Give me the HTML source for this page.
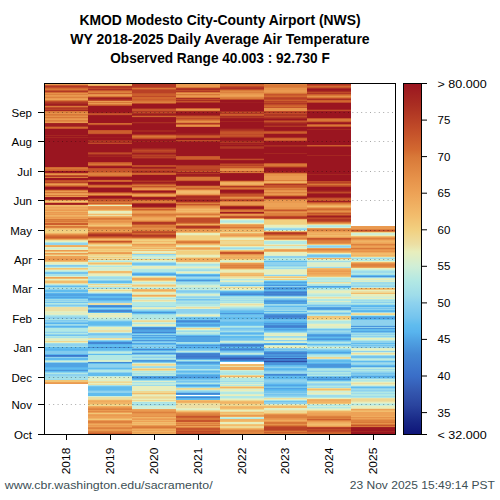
<!DOCTYPE html>
<html><head><meta charset="utf-8"><style>
html,body{margin:0;padding:0;background:#fff;width:500px;height:500px;overflow:hidden}
svg{display:block}
.t{font-family:"Liberation Sans",sans-serif;font-size:11.5px;fill:#000}
.title{font-family:"Liberation Sans",sans-serif;font-size:13.9px;font-weight:bold;fill:#000}
.foot{font-family:"Liberation Sans",sans-serif;font-size:11.2px;fill:#3d4f55}
</style></head><body>
<svg width="500" height="500" viewBox="0 0 500 500">
<defs><linearGradient id="cb" x1="0" y1="0" x2="0" y2="1"><stop offset="0.0000" stop-color="#9a1520"/><stop offset="0.0625" stop-color="#aa2e22"/><stop offset="0.1250" stop-color="#c04a28"/><stop offset="0.1875" stop-color="#d26830"/><stop offset="0.2083" stop-color="#d87838"/><stop offset="0.2708" stop-color="#e6924a"/><stop offset="0.3125" stop-color="#eda256"/><stop offset="0.3750" stop-color="#f2bc6c"/><stop offset="0.4167" stop-color="#f2d080"/><stop offset="0.4583" stop-color="#ecdfa4"/><stop offset="0.4792" stop-color="#e8eebc"/><stop offset="0.5208" stop-color="#d0eed6"/><stop offset="0.5625" stop-color="#b2e8e4"/><stop offset="0.6042" stop-color="#9edcea"/><stop offset="0.6250" stop-color="#8ed2ee"/><stop offset="0.6667" stop-color="#74c4ee"/><stop offset="0.6875" stop-color="#60bcee"/><stop offset="0.7083" stop-color="#58b4ee"/><stop offset="0.7292" stop-color="#50a4e4"/><stop offset="0.7708" stop-color="#4488d4"/><stop offset="0.8333" stop-color="#3a6ec8"/><stop offset="0.8750" stop-color="#3458b0"/><stop offset="0.9167" stop-color="#2a449e"/><stop offset="0.9583" stop-color="#1a2a88"/><stop offset="1.0000" stop-color="#0e1478"/></linearGradient></defs>
<rect x="44.00" y="84" width="44.00" height="1" fill="#ea9a50"/>
<rect x="44.00" y="85" width="44.00" height="1" fill="#c6542b"/>
<rect x="44.00" y="86" width="44.00" height="1" fill="#b13724"/>
<rect x="44.00" y="87" width="44.00" height="1" fill="#c04a28"/>
<rect x="44.00" y="88" width="44.00" height="1" fill="#d26830"/>
<rect x="44.00" y="89" width="44.00" height="1" fill="#d87838"/>
<rect x="44.00" y="90" width="44.00" height="1" fill="#c6542b"/>
<rect x="44.00" y="91" width="44.00" height="1" fill="#b13724"/>
<rect x="44.00" y="92" width="44.00" height="1" fill="#d26830"/>
<rect x="44.00" y="93" width="44.00" height="1" fill="#e6924a"/>
<rect x="44.00" y="94" width="44.00" height="1" fill="#dd813e"/>
<rect x="44.00" y="95" width="44.00" height="1" fill="#ea9a50"/>
<rect x="44.00" y="96" width="44.00" height="1" fill="#e6924a"/>
<rect x="44.00" y="97" width="44.00" height="1" fill="#dd813e"/>
<rect x="44.00" y="98" width="44.00" height="1" fill="#ea9a50"/>
<rect x="44.00" y="99" width="44.00" height="1" fill="#eda256"/>
<rect x="44.00" y="100" width="44.00" height="1" fill="#d87838"/>
<rect x="44.00" y="101" width="44.00" height="1" fill="#c04a28"/>
<rect x="44.00" y="102" width="44.00" height="1" fill="#b13724"/>
<rect x="44.00" y="103" width="44.00" height="1" fill="#aa2e22"/>
<rect x="44.00" y="104" width="44.00" height="1" fill="#9f1d21"/>
<rect x="44.00" y="105" width="44.00" height="1" fill="#aa2e22"/>
<rect x="44.00" y="106" width="44.00" height="1" fill="#d87838"/>
<rect x="44.00" y="107" width="44.00" height="1" fill="#c04a28"/>
<rect x="44.00" y="108" width="44.00" height="1" fill="#b13724"/>
<rect x="44.00" y="109" width="44.00" height="1" fill="#b94126"/>
<rect x="44.00" y="110" width="44.00" height="1" fill="#a52621"/>
<rect x="44.00" y="111" width="44.00" height="1" fill="#d87838"/>
<rect x="44.00" y="112" width="44.00" height="1" fill="#dd813e"/>
<rect x="44.00" y="113" width="44.00" height="1" fill="#e6924a"/>
<rect x="44.00" y="114" width="44.00" height="1" fill="#d87838"/>
<rect x="44.00" y="115" width="44.00" height="1" fill="#dd813e"/>
<rect x="44.00" y="116" width="44.00" height="1" fill="#e6924a"/>
<rect x="44.00" y="117" width="44.00" height="1" fill="#d87838"/>
<rect x="44.00" y="118" width="44.00" height="1" fill="#e6924a"/>
<rect x="44.00" y="119" width="44.00" height="1" fill="#ea9a50"/>
<rect x="44.00" y="120" width="44.00" height="1" fill="#dd813e"/>
<rect x="44.00" y="121" width="44.00" height="1" fill="#e18944"/>
<rect x="44.00" y="122" width="44.00" height="1" fill="#ea9a50"/>
<rect x="44.00" y="123" width="44.00" height="1" fill="#a52621"/>
<rect x="44.00" y="124" width="44.00" height="2" fill="#9f1d21"/>
<rect x="44.00" y="126" width="44.00" height="1" fill="#b13724"/>
<rect x="44.00" y="127" width="44.00" height="1" fill="#d26830"/>
<rect x="44.00" y="128" width="44.00" height="1" fill="#c6542b"/>
<rect x="44.00" y="129" width="44.00" height="6" fill="#9a1520"/>
<rect x="44.00" y="135" width="44.00" height="1" fill="#a52621"/>
<rect x="44.00" y="136" width="44.00" height="1" fill="#9a1520"/>
<rect x="44.00" y="137" width="44.00" height="1" fill="#a52621"/>
<rect x="44.00" y="138" width="44.00" height="29" fill="#9a1520"/>
<rect x="44.00" y="167" width="44.00" height="1" fill="#d26830"/>
<rect x="44.00" y="168" width="44.00" height="1" fill="#d87838"/>
<rect x="44.00" y="169" width="44.00" height="1" fill="#d26830"/>
<rect x="44.00" y="170" width="44.00" height="1" fill="#cc5e2d"/>
<rect x="44.00" y="171" width="44.00" height="1" fill="#9a1520"/>
<rect x="44.00" y="172" width="44.00" height="1" fill="#9f1d21"/>
<rect x="44.00" y="173" width="44.00" height="1" fill="#d87838"/>
<rect x="44.00" y="174" width="44.00" height="1" fill="#e6924a"/>
<rect x="44.00" y="175" width="44.00" height="1" fill="#c04a28"/>
<rect x="44.00" y="176" width="44.00" height="1" fill="#b13724"/>
<rect x="44.00" y="177" width="44.00" height="1" fill="#d87838"/>
<rect x="44.00" y="178" width="44.00" height="2" fill="#9a1520"/>
<rect x="44.00" y="180" width="44.00" height="1" fill="#c04a28"/>
<rect x="44.00" y="181" width="44.00" height="1" fill="#c6542b"/>
<rect x="44.00" y="182" width="44.00" height="1" fill="#b94126"/>
<rect x="44.00" y="183" width="44.00" height="1" fill="#dd813e"/>
<rect x="44.00" y="184" width="44.00" height="1" fill="#ea9a50"/>
<rect x="44.00" y="185" width="44.00" height="1" fill="#d87838"/>
<rect x="44.00" y="186" width="44.00" height="1" fill="#c04a28"/>
<rect x="44.00" y="187" width="44.00" height="2" fill="#9a1520"/>
<rect x="44.00" y="189" width="44.00" height="1" fill="#aa2e22"/>
<rect x="44.00" y="190" width="44.00" height="1" fill="#d87838"/>
<rect x="44.00" y="191" width="44.00" height="1" fill="#ea9a50"/>
<rect x="44.00" y="192" width="44.00" height="1" fill="#d87838"/>
<rect x="44.00" y="193" width="44.00" height="1" fill="#ea9a50"/>
<rect x="44.00" y="194" width="44.00" height="1" fill="#eda256"/>
<rect x="44.00" y="195" width="44.00" height="1" fill="#d87838"/>
<rect x="44.00" y="196" width="44.00" height="1" fill="#ea9a50"/>
<rect x="44.00" y="197" width="44.00" height="1" fill="#9f1d21"/>
<rect x="44.00" y="198" width="44.00" height="1" fill="#9a1520"/>
<rect x="44.00" y="199" width="44.00" height="1" fill="#aa2e22"/>
<rect x="44.00" y="200" width="44.00" height="1" fill="#ea9a50"/>
<rect x="44.00" y="201" width="44.00" height="1" fill="#f2c676"/>
<rect x="44.00" y="202" width="44.00" height="1" fill="#ea9a50"/>
<rect x="44.00" y="203" width="44.00" height="1" fill="#9f1d21"/>
<rect x="44.00" y="204" width="44.00" height="1" fill="#aa2e22"/>
<rect x="44.00" y="205" width="44.00" height="1" fill="#f2bc6c"/>
<rect x="44.00" y="206" width="44.00" height="1" fill="#f0b365"/>
<rect x="44.00" y="207" width="44.00" height="1" fill="#eda256"/>
<rect x="44.00" y="208" width="44.00" height="1" fill="#efab5d"/>
<rect x="44.00" y="209" width="44.00" height="1" fill="#eda256"/>
<rect x="44.00" y="210" width="44.00" height="1" fill="#ea9a50"/>
<rect x="44.00" y="211" width="44.00" height="1" fill="#f0b365"/>
<rect x="44.00" y="212" width="44.00" height="1" fill="#ea9a50"/>
<rect x="44.00" y="213" width="44.00" height="1" fill="#eda256"/>
<rect x="44.00" y="214" width="44.00" height="1" fill="#ea9a50"/>
<rect x="44.00" y="215" width="44.00" height="1" fill="#f0b365"/>
<rect x="44.00" y="216" width="44.00" height="1" fill="#efab5d"/>
<rect x="44.00" y="217" width="44.00" height="1" fill="#ea9a50"/>
<rect x="44.00" y="218" width="44.00" height="1" fill="#eda256"/>
<rect x="44.00" y="219" width="44.00" height="1" fill="#d87838"/>
<rect x="44.00" y="220" width="44.00" height="1" fill="#dd813e"/>
<rect x="44.00" y="221" width="44.00" height="1" fill="#d87838"/>
<rect x="44.00" y="222" width="44.00" height="1" fill="#e6924a"/>
<rect x="44.00" y="223" width="44.00" height="2" fill="#cc5e2d"/>
<rect x="44.00" y="225" width="44.00" height="1" fill="#efab5d"/>
<rect x="44.00" y="226" width="44.00" height="1" fill="#d87838"/>
<rect x="44.00" y="227" width="44.00" height="1" fill="#dd813e"/>
<rect x="44.00" y="228" width="44.00" height="1" fill="#f0b365"/>
<rect x="44.00" y="229" width="44.00" height="1" fill="#f2c676"/>
<rect x="44.00" y="230" width="44.00" height="3" fill="#f2d080"/>
<rect x="44.00" y="233" width="44.00" height="1" fill="#f0b365"/>
<rect x="44.00" y="234" width="44.00" height="1" fill="#e6924a"/>
<rect x="44.00" y="235" width="44.00" height="1" fill="#d87838"/>
<rect x="44.00" y="236" width="44.00" height="1" fill="#d26830"/>
<rect x="44.00" y="237" width="44.00" height="1" fill="#cc5e2d"/>
<rect x="44.00" y="238" width="44.00" height="1" fill="#d87838"/>
<rect x="44.00" y="239" width="44.00" height="1" fill="#efab5d"/>
<rect x="44.00" y="240" width="44.00" height="1" fill="#ecdfa4"/>
<rect x="44.00" y="241" width="44.00" height="1" fill="#e8eebc"/>
<rect x="44.00" y="242" width="44.00" height="1" fill="#b2e8e4"/>
<rect x="44.00" y="243" width="44.00" height="2" fill="#8ed2ee"/>
<rect x="44.00" y="245" width="44.00" height="1" fill="#f0b365"/>
<rect x="44.00" y="246" width="44.00" height="1" fill="#efab5d"/>
<rect x="44.00" y="247" width="44.00" height="1" fill="#e8eebc"/>
<rect x="44.00" y="248" width="44.00" height="1" fill="#d0eed6"/>
<rect x="44.00" y="249" width="44.00" height="1" fill="#e8eebc"/>
<rect x="44.00" y="250" width="44.00" height="1" fill="#ea9a50"/>
<rect x="44.00" y="251" width="44.00" height="1" fill="#f2bc6c"/>
<rect x="44.00" y="252" width="44.00" height="1" fill="#ecdfa4"/>
<rect x="44.00" y="253" width="44.00" height="1" fill="#ea9a50"/>
<rect x="44.00" y="254" width="44.00" height="1" fill="#f0b365"/>
<rect x="44.00" y="255" width="44.00" height="1" fill="#efd892"/>
<rect x="44.00" y="256" width="44.00" height="2" fill="#eda256"/>
<rect x="44.00" y="258" width="44.00" height="2" fill="#ea9a50"/>
<rect x="44.00" y="260" width="44.00" height="1" fill="#eda256"/>
<rect x="44.00" y="261" width="44.00" height="1" fill="#f2bc6c"/>
<rect x="44.00" y="262" width="44.00" height="2" fill="#e8eebc"/>
<rect x="44.00" y="264" width="44.00" height="1" fill="#d0eed6"/>
<rect x="44.00" y="265" width="44.00" height="1" fill="#81cbee"/>
<rect x="44.00" y="266" width="44.00" height="1" fill="#8ed2ee"/>
<rect x="44.00" y="267" width="44.00" height="1" fill="#c1ebdd"/>
<rect x="44.00" y="268" width="44.00" height="1" fill="#f2c676"/>
<rect x="44.00" y="269" width="44.00" height="1" fill="#efd892"/>
<rect x="44.00" y="270" width="44.00" height="1" fill="#d0eed6"/>
<rect x="44.00" y="271" width="44.00" height="1" fill="#b2e8e4"/>
<rect x="44.00" y="272" width="44.00" height="2" fill="#74c4ee"/>
<rect x="44.00" y="274" width="44.00" height="2" fill="#a8e2e7"/>
<rect x="44.00" y="276" width="44.00" height="1" fill="#dceec9"/>
<rect x="44.00" y="277" width="44.00" height="1" fill="#eda256"/>
<rect x="44.00" y="278" width="44.00" height="1" fill="#f2bc6c"/>
<rect x="44.00" y="279" width="44.00" height="1" fill="#e8eebc"/>
<rect x="44.00" y="280" width="44.00" height="1" fill="#efd892"/>
<rect x="44.00" y="281" width="44.00" height="2" fill="#f2bc6c"/>
<rect x="44.00" y="283" width="44.00" height="1" fill="#ecdfa4"/>
<rect x="44.00" y="284" width="44.00" height="1" fill="#c1ebdd"/>
<rect x="44.00" y="285" width="44.00" height="1" fill="#8ed2ee"/>
<rect x="44.00" y="286" width="44.00" height="1" fill="#60bcee"/>
<rect x="44.00" y="287" width="44.00" height="1" fill="#9edcea"/>
<rect x="44.00" y="288" width="44.00" height="1" fill="#a8e2e7"/>
<rect x="44.00" y="289" width="44.00" height="1" fill="#8ed2ee"/>
<rect x="44.00" y="290" width="44.00" height="2" fill="#60bcee"/>
<rect x="44.00" y="292" width="44.00" height="1" fill="#8ed2ee"/>
<rect x="44.00" y="293" width="44.00" height="1" fill="#58b4ee"/>
<rect x="44.00" y="294" width="44.00" height="2" fill="#50a4e4"/>
<rect x="44.00" y="296" width="44.00" height="1" fill="#58b4ee"/>
<rect x="44.00" y="297" width="44.00" height="1" fill="#50a4e4"/>
<rect x="44.00" y="298" width="44.00" height="1" fill="#60bcee"/>
<rect x="44.00" y="299" width="44.00" height="1" fill="#9edcea"/>
<rect x="44.00" y="300" width="44.00" height="1" fill="#8ed2ee"/>
<rect x="44.00" y="301" width="44.00" height="1" fill="#9edcea"/>
<rect x="44.00" y="302" width="44.00" height="1" fill="#74c4ee"/>
<rect x="44.00" y="303" width="44.00" height="1" fill="#b2e8e4"/>
<rect x="44.00" y="304" width="44.00" height="1" fill="#9edcea"/>
<rect x="44.00" y="305" width="44.00" height="1" fill="#81cbee"/>
<rect x="44.00" y="306" width="44.00" height="1" fill="#9edcea"/>
<rect x="44.00" y="307" width="44.00" height="4" fill="#ecdfa4"/>
<rect x="44.00" y="311" width="44.00" height="1" fill="#e8eebc"/>
<rect x="44.00" y="312" width="44.00" height="1" fill="#dceec9"/>
<rect x="44.00" y="313" width="44.00" height="1" fill="#e8eebc"/>
<rect x="44.00" y="314" width="44.00" height="1" fill="#dceec9"/>
<rect x="44.00" y="315" width="44.00" height="1" fill="#b2e8e4"/>
<rect x="44.00" y="316" width="44.00" height="1" fill="#9edcea"/>
<rect x="44.00" y="317" width="44.00" height="2" fill="#8ed2ee"/>
<rect x="44.00" y="319" width="44.00" height="1" fill="#a8e2e7"/>
<rect x="44.00" y="320" width="44.00" height="1" fill="#81cbee"/>
<rect x="44.00" y="321" width="44.00" height="1" fill="#8ed2ee"/>
<rect x="44.00" y="322" width="44.00" height="1" fill="#74c4ee"/>
<rect x="44.00" y="323" width="44.00" height="1" fill="#58b4ee"/>
<rect x="44.00" y="324" width="44.00" height="1" fill="#9edcea"/>
<rect x="44.00" y="325" width="44.00" height="1" fill="#8ed2ee"/>
<rect x="44.00" y="326" width="44.00" height="1" fill="#58b4ee"/>
<rect x="44.00" y="327" width="44.00" height="1" fill="#74c4ee"/>
<rect x="44.00" y="328" width="44.00" height="3" fill="#b2e8e4"/>
<rect x="44.00" y="331" width="44.00" height="1" fill="#a8e2e7"/>
<rect x="44.00" y="332" width="44.00" height="1" fill="#8ed2ee"/>
<rect x="44.00" y="333" width="44.00" height="1" fill="#b2e8e4"/>
<rect x="44.00" y="334" width="44.00" height="1" fill="#8ed2ee"/>
<rect x="44.00" y="335" width="44.00" height="1" fill="#74c4ee"/>
<rect x="44.00" y="336" width="44.00" height="1" fill="#b2e8e4"/>
<rect x="44.00" y="337" width="44.00" height="1" fill="#a8e2e7"/>
<rect x="44.00" y="338" width="44.00" height="1" fill="#dceec9"/>
<rect x="44.00" y="339" width="44.00" height="1" fill="#e8eebc"/>
<rect x="44.00" y="340" width="44.00" height="1" fill="#dceec9"/>
<rect x="44.00" y="341" width="44.00" height="1" fill="#efd892"/>
<rect x="44.00" y="342" width="44.00" height="1" fill="#e8eebc"/>
<rect x="44.00" y="343" width="44.00" height="1" fill="#9edcea"/>
<rect x="44.00" y="344" width="44.00" height="2" fill="#8ed2ee"/>
<rect x="44.00" y="346" width="44.00" height="1" fill="#9edcea"/>
<rect x="44.00" y="347" width="44.00" height="2" fill="#60bcee"/>
<rect x="44.00" y="349" width="44.00" height="1" fill="#58b4ee"/>
<rect x="44.00" y="350" width="44.00" height="1" fill="#60bcee"/>
<rect x="44.00" y="351" width="44.00" height="3" fill="#81cbee"/>
<rect x="44.00" y="354" width="44.00" height="1" fill="#58b4ee"/>
<rect x="44.00" y="355" width="44.00" height="1" fill="#3d77cc"/>
<rect x="44.00" y="356" width="44.00" height="1" fill="#4488d4"/>
<rect x="44.00" y="357" width="44.00" height="1" fill="#8ed2ee"/>
<rect x="44.00" y="358" width="44.00" height="2" fill="#60bcee"/>
<rect x="44.00" y="360" width="44.00" height="1" fill="#a8e2e7"/>
<rect x="44.00" y="361" width="44.00" height="1" fill="#d0eed6"/>
<rect x="44.00" y="362" width="44.00" height="1" fill="#8ed2ee"/>
<rect x="44.00" y="363" width="44.00" height="4" fill="#50a4e4"/>
<rect x="44.00" y="367" width="44.00" height="1" fill="#58b4ee"/>
<rect x="44.00" y="368" width="44.00" height="1" fill="#60bcee"/>
<rect x="44.00" y="369" width="44.00" height="1" fill="#58b4ee"/>
<rect x="44.00" y="370" width="44.00" height="1" fill="#4a96dc"/>
<rect x="44.00" y="371" width="44.00" height="1" fill="#60bcee"/>
<rect x="44.00" y="372" width="44.00" height="1" fill="#8ed2ee"/>
<rect x="44.00" y="373" width="44.00" height="1" fill="#b2e8e4"/>
<rect x="44.00" y="374" width="44.00" height="2" fill="#8ed2ee"/>
<rect x="44.00" y="376" width="44.00" height="2" fill="#9edcea"/>
<rect x="44.00" y="378" width="44.00" height="1" fill="#a8e2e7"/>
<rect x="44.00" y="379" width="44.00" height="1" fill="#9edcea"/>
<rect x="44.00" y="380" width="44.00" height="2" fill="#f2c676"/>
<rect x="44.00" y="382" width="44.00" height="1" fill="#eda256"/>
<rect x="44.00" y="383" width="44.00" height="1" fill="#ea9a50"/>
<rect x="88.00" y="84" width="44.00" height="1" fill="#f2c676"/>
<rect x="88.00" y="85" width="44.00" height="1" fill="#efab5d"/>
<rect x="88.00" y="86" width="44.00" height="2" fill="#b13724"/>
<rect x="88.00" y="88" width="44.00" height="1" fill="#c04a28"/>
<rect x="88.00" y="89" width="44.00" height="1" fill="#aa2e22"/>
<rect x="88.00" y="90" width="44.00" height="1" fill="#c6542b"/>
<rect x="88.00" y="91" width="44.00" height="1" fill="#d87838"/>
<rect x="88.00" y="92" width="44.00" height="1" fill="#dd813e"/>
<rect x="88.00" y="93" width="44.00" height="1" fill="#cc5e2d"/>
<rect x="88.00" y="94" width="44.00" height="1" fill="#e6924a"/>
<rect x="88.00" y="95" width="44.00" height="1" fill="#ea9a50"/>
<rect x="88.00" y="96" width="44.00" height="1" fill="#d87838"/>
<rect x="88.00" y="97" width="44.00" height="1" fill="#b13724"/>
<rect x="88.00" y="98" width="44.00" height="1" fill="#9f1d21"/>
<rect x="88.00" y="99" width="44.00" height="1" fill="#aa2e22"/>
<rect x="88.00" y="100" width="44.00" height="1" fill="#c04a28"/>
<rect x="88.00" y="101" width="44.00" height="1" fill="#ea9a50"/>
<rect x="88.00" y="102" width="44.00" height="1" fill="#d87838"/>
<rect x="88.00" y="103" width="44.00" height="1" fill="#ea9a50"/>
<rect x="88.00" y="104" width="44.00" height="1" fill="#d87838"/>
<rect x="88.00" y="105" width="44.00" height="1" fill="#c6542b"/>
<rect x="88.00" y="106" width="44.00" height="6" fill="#9a1520"/>
<rect x="88.00" y="112" width="44.00" height="1" fill="#9f1d21"/>
<rect x="88.00" y="113" width="44.00" height="1" fill="#c04a28"/>
<rect x="88.00" y="114" width="44.00" height="1" fill="#c6542b"/>
<rect x="88.00" y="115" width="44.00" height="1" fill="#9f1d21"/>
<rect x="88.00" y="116" width="44.00" height="7" fill="#9a1520"/>
<rect x="88.00" y="123" width="44.00" height="1" fill="#d26830"/>
<rect x="88.00" y="124" width="44.00" height="1" fill="#c6542b"/>
<rect x="88.00" y="125" width="44.00" height="1" fill="#9f1d21"/>
<rect x="88.00" y="126" width="44.00" height="4" fill="#9a1520"/>
<rect x="88.00" y="130" width="44.00" height="1" fill="#c6542b"/>
<rect x="88.00" y="131" width="44.00" height="2" fill="#cc5e2d"/>
<rect x="88.00" y="133" width="44.00" height="1" fill="#c6542b"/>
<rect x="88.00" y="134" width="44.00" height="1" fill="#9f1d21"/>
<rect x="88.00" y="135" width="44.00" height="2" fill="#9a1520"/>
<rect x="88.00" y="137" width="44.00" height="1" fill="#9f1d21"/>
<rect x="88.00" y="138" width="44.00" height="2" fill="#9a1520"/>
<rect x="88.00" y="140" width="44.00" height="1" fill="#aa2e22"/>
<rect x="88.00" y="141" width="44.00" height="1" fill="#b13724"/>
<rect x="88.00" y="142" width="44.00" height="1" fill="#aa2e22"/>
<rect x="88.00" y="143" width="44.00" height="1" fill="#c04a28"/>
<rect x="88.00" y="144" width="44.00" height="8" fill="#9a1520"/>
<rect x="88.00" y="152" width="44.00" height="1" fill="#b13724"/>
<rect x="88.00" y="153" width="44.00" height="1" fill="#c04a28"/>
<rect x="88.00" y="154" width="44.00" height="1" fill="#aa2e22"/>
<rect x="88.00" y="155" width="44.00" height="1" fill="#9f1d21"/>
<rect x="88.00" y="156" width="44.00" height="1" fill="#a52621"/>
<rect x="88.00" y="157" width="44.00" height="5" fill="#9a1520"/>
<rect x="88.00" y="162" width="44.00" height="1" fill="#c6542b"/>
<rect x="88.00" y="163" width="44.00" height="1" fill="#d26830"/>
<rect x="88.00" y="164" width="44.00" height="1" fill="#d87838"/>
<rect x="88.00" y="165" width="44.00" height="1" fill="#c6542b"/>
<rect x="88.00" y="166" width="44.00" height="1" fill="#9f1d21"/>
<rect x="88.00" y="167" width="44.00" height="1" fill="#9a1520"/>
<rect x="88.00" y="168" width="44.00" height="1" fill="#c04a28"/>
<rect x="88.00" y="169" width="44.00" height="3" fill="#c6542b"/>
<rect x="88.00" y="172" width="44.00" height="1" fill="#d26830"/>
<rect x="88.00" y="173" width="44.00" height="2" fill="#dd813e"/>
<rect x="88.00" y="175" width="44.00" height="1" fill="#d87838"/>
<rect x="88.00" y="176" width="44.00" height="1" fill="#c04a28"/>
<rect x="88.00" y="177" width="44.00" height="2" fill="#9a1520"/>
<rect x="88.00" y="179" width="44.00" height="1" fill="#9f1d21"/>
<rect x="88.00" y="180" width="44.00" height="1" fill="#d26830"/>
<rect x="88.00" y="181" width="44.00" height="1" fill="#cc5e2d"/>
<rect x="88.00" y="182" width="44.00" height="2" fill="#9a1520"/>
<rect x="88.00" y="184" width="44.00" height="1" fill="#aa2e22"/>
<rect x="88.00" y="185" width="44.00" height="1" fill="#d26830"/>
<rect x="88.00" y="186" width="44.00" height="1" fill="#d87838"/>
<rect x="88.00" y="187" width="44.00" height="1" fill="#c04a28"/>
<rect x="88.00" y="188" width="44.00" height="4" fill="#9a1520"/>
<rect x="88.00" y="192" width="44.00" height="1" fill="#c04a28"/>
<rect x="88.00" y="193" width="44.00" height="1" fill="#dd813e"/>
<rect x="88.00" y="194" width="44.00" height="1" fill="#ea9a50"/>
<rect x="88.00" y="195" width="44.00" height="1" fill="#cc5e2d"/>
<rect x="88.00" y="196" width="44.00" height="2" fill="#9a1520"/>
<rect x="88.00" y="198" width="44.00" height="1" fill="#aa2e22"/>
<rect x="88.00" y="199" width="44.00" height="2" fill="#c6542b"/>
<rect x="88.00" y="201" width="44.00" height="1" fill="#d26830"/>
<rect x="88.00" y="202" width="44.00" height="1" fill="#d87838"/>
<rect x="88.00" y="203" width="44.00" height="1" fill="#cc5e2d"/>
<rect x="88.00" y="204" width="44.00" height="1" fill="#ea9a50"/>
<rect x="88.00" y="205" width="44.00" height="1" fill="#e8eebc"/>
<rect x="88.00" y="206" width="44.00" height="1" fill="#ea9a50"/>
<rect x="88.00" y="207" width="44.00" height="2" fill="#e6924a"/>
<rect x="88.00" y="209" width="44.00" height="1" fill="#ea9a50"/>
<rect x="88.00" y="210" width="44.00" height="1" fill="#f2bc6c"/>
<rect x="88.00" y="211" width="44.00" height="2" fill="#e8eebc"/>
<rect x="88.00" y="213" width="44.00" height="1" fill="#ecdfa4"/>
<rect x="88.00" y="214" width="44.00" height="1" fill="#f2bc6c"/>
<rect x="88.00" y="215" width="44.00" height="1" fill="#ecdfa4"/>
<rect x="88.00" y="216" width="44.00" height="1" fill="#f0b365"/>
<rect x="88.00" y="217" width="44.00" height="1" fill="#ea9a50"/>
<rect x="88.00" y="218" width="44.00" height="1" fill="#d87838"/>
<rect x="88.00" y="219" width="44.00" height="1" fill="#dd813e"/>
<rect x="88.00" y="220" width="44.00" height="1" fill="#ea9a50"/>
<rect x="88.00" y="221" width="44.00" height="1" fill="#e6924a"/>
<rect x="88.00" y="222" width="44.00" height="1" fill="#ea9a50"/>
<rect x="88.00" y="223" width="44.00" height="1" fill="#efab5d"/>
<rect x="88.00" y="224" width="44.00" height="1" fill="#f0b365"/>
<rect x="88.00" y="225" width="44.00" height="1" fill="#f2c676"/>
<rect x="88.00" y="226" width="44.00" height="1" fill="#efab5d"/>
<rect x="88.00" y="227" width="44.00" height="2" fill="#dd813e"/>
<rect x="88.00" y="229" width="44.00" height="1" fill="#e6924a"/>
<rect x="88.00" y="230" width="44.00" height="2" fill="#ea9a50"/>
<rect x="88.00" y="232" width="44.00" height="1" fill="#d87838"/>
<rect x="88.00" y="233" width="44.00" height="1" fill="#c6542b"/>
<rect x="88.00" y="234" width="44.00" height="1" fill="#b13724"/>
<rect x="88.00" y="235" width="44.00" height="1" fill="#aa2e22"/>
<rect x="88.00" y="236" width="44.00" height="1" fill="#c04a28"/>
<rect x="88.00" y="237" width="44.00" height="1" fill="#d26830"/>
<rect x="88.00" y="238" width="44.00" height="1" fill="#ea9a50"/>
<rect x="88.00" y="239" width="44.00" height="1" fill="#f2bc6c"/>
<rect x="88.00" y="240" width="44.00" height="1" fill="#ea9a50"/>
<rect x="88.00" y="241" width="44.00" height="1" fill="#c6542b"/>
<rect x="88.00" y="242" width="44.00" height="1" fill="#d87838"/>
<rect x="88.00" y="243" width="44.00" height="1" fill="#efab5d"/>
<rect x="88.00" y="244" width="44.00" height="1" fill="#f2d080"/>
<rect x="88.00" y="245" width="44.00" height="1" fill="#ecdfa4"/>
<rect x="88.00" y="246" width="44.00" height="1" fill="#f2c676"/>
<rect x="88.00" y="247" width="44.00" height="1" fill="#f0b365"/>
<rect x="88.00" y="248" width="44.00" height="1" fill="#f2bc6c"/>
<rect x="88.00" y="249" width="44.00" height="1" fill="#f2d080"/>
<rect x="88.00" y="250" width="44.00" height="1" fill="#f2c676"/>
<rect x="88.00" y="251" width="44.00" height="1" fill="#f2d080"/>
<rect x="88.00" y="252" width="44.00" height="1" fill="#eda256"/>
<rect x="88.00" y="253" width="44.00" height="1" fill="#ea9a50"/>
<rect x="88.00" y="254" width="44.00" height="1" fill="#f2d080"/>
<rect x="88.00" y="255" width="44.00" height="1" fill="#efd892"/>
<rect x="88.00" y="256" width="44.00" height="1" fill="#ecdfa4"/>
<rect x="88.00" y="257" width="44.00" height="1" fill="#f2d080"/>
<rect x="88.00" y="258" width="44.00" height="1" fill="#ecdfa4"/>
<rect x="88.00" y="259" width="44.00" height="1" fill="#f2c676"/>
<rect x="88.00" y="260" width="44.00" height="1" fill="#d0eed6"/>
<rect x="88.00" y="261" width="44.00" height="1" fill="#b2e8e4"/>
<rect x="88.00" y="262" width="44.00" height="1" fill="#efd892"/>
<rect x="88.00" y="263" width="44.00" height="1" fill="#f2bc6c"/>
<rect x="88.00" y="264" width="44.00" height="1" fill="#efd892"/>
<rect x="88.00" y="265" width="44.00" height="1" fill="#d0eed6"/>
<rect x="88.00" y="266" width="44.00" height="1" fill="#b2e8e4"/>
<rect x="88.00" y="267" width="44.00" height="1" fill="#dceec9"/>
<rect x="88.00" y="268" width="44.00" height="2" fill="#d0eed6"/>
<rect x="88.00" y="270" width="44.00" height="1" fill="#dceec9"/>
<rect x="88.00" y="271" width="44.00" height="2" fill="#f2bc6c"/>
<rect x="88.00" y="273" width="44.00" height="1" fill="#ecdfa4"/>
<rect x="88.00" y="274" width="44.00" height="2" fill="#e8eebc"/>
<rect x="88.00" y="276" width="44.00" height="1" fill="#b2e8e4"/>
<rect x="88.00" y="277" width="44.00" height="2" fill="#9edcea"/>
<rect x="88.00" y="279" width="44.00" height="1" fill="#b2e8e4"/>
<rect x="88.00" y="280" width="44.00" height="1" fill="#8ed2ee"/>
<rect x="88.00" y="281" width="44.00" height="2" fill="#60bcee"/>
<rect x="88.00" y="283" width="44.00" height="1" fill="#a8e2e7"/>
<rect x="88.00" y="284" width="44.00" height="1" fill="#efd892"/>
<rect x="88.00" y="285" width="44.00" height="1" fill="#dceec9"/>
<rect x="88.00" y="286" width="44.00" height="1" fill="#ecdfa4"/>
<rect x="88.00" y="287" width="44.00" height="1" fill="#b2e8e4"/>
<rect x="88.00" y="288" width="44.00" height="1" fill="#9edcea"/>
<rect x="88.00" y="289" width="44.00" height="1" fill="#e8eebc"/>
<rect x="88.00" y="290" width="44.00" height="1" fill="#efd892"/>
<rect x="88.00" y="291" width="44.00" height="1" fill="#e8eebc"/>
<rect x="88.00" y="292" width="44.00" height="1" fill="#d0eed6"/>
<rect x="88.00" y="293" width="44.00" height="1" fill="#8ed2ee"/>
<rect x="88.00" y="294" width="44.00" height="2" fill="#50a4e4"/>
<rect x="88.00" y="296" width="44.00" height="2" fill="#60bcee"/>
<rect x="88.00" y="298" width="44.00" height="2" fill="#50a4e4"/>
<rect x="88.00" y="300" width="44.00" height="1" fill="#60bcee"/>
<rect x="88.00" y="301" width="44.00" height="1" fill="#81cbee"/>
<rect x="88.00" y="302" width="44.00" height="1" fill="#8ed2ee"/>
<rect x="88.00" y="303" width="44.00" height="2" fill="#ecdfa4"/>
<rect x="88.00" y="305" width="44.00" height="1" fill="#4a96dc"/>
<rect x="88.00" y="306" width="44.00" height="1" fill="#4488d4"/>
<rect x="88.00" y="307" width="44.00" height="1" fill="#58b4ee"/>
<rect x="88.00" y="308" width="44.00" height="1" fill="#8ed2ee"/>
<rect x="88.00" y="309" width="44.00" height="1" fill="#60bcee"/>
<rect x="88.00" y="310" width="44.00" height="2" fill="#4488d4"/>
<rect x="88.00" y="312" width="44.00" height="1" fill="#58b4ee"/>
<rect x="88.00" y="313" width="44.00" height="1" fill="#e8eebc"/>
<rect x="88.00" y="314" width="44.00" height="1" fill="#dceec9"/>
<rect x="88.00" y="315" width="44.00" height="2" fill="#e8eebc"/>
<rect x="88.00" y="317" width="44.00" height="1" fill="#d0eed6"/>
<rect x="88.00" y="318" width="44.00" height="1" fill="#c1ebdd"/>
<rect x="88.00" y="319" width="44.00" height="1" fill="#b2e8e4"/>
<rect x="88.00" y="320" width="44.00" height="1" fill="#9edcea"/>
<rect x="88.00" y="321" width="44.00" height="1" fill="#74c4ee"/>
<rect x="88.00" y="322" width="44.00" height="3" fill="#60bcee"/>
<rect x="88.00" y="325" width="44.00" height="1" fill="#74c4ee"/>
<rect x="88.00" y="326" width="44.00" height="1" fill="#a8e2e7"/>
<rect x="88.00" y="327" width="44.00" height="2" fill="#e8eebc"/>
<rect x="88.00" y="329" width="44.00" height="1" fill="#dceec9"/>
<rect x="88.00" y="330" width="44.00" height="2" fill="#ecdfa4"/>
<rect x="88.00" y="332" width="44.00" height="1" fill="#d0eed6"/>
<rect x="88.00" y="333" width="44.00" height="1" fill="#81cbee"/>
<rect x="88.00" y="334" width="44.00" height="1" fill="#74c4ee"/>
<rect x="88.00" y="335" width="44.00" height="1" fill="#8ed2ee"/>
<rect x="88.00" y="336" width="44.00" height="2" fill="#9edcea"/>
<rect x="88.00" y="338" width="44.00" height="1" fill="#ecdfa4"/>
<rect x="88.00" y="339" width="44.00" height="1" fill="#e8eebc"/>
<rect x="88.00" y="340" width="44.00" height="1" fill="#8ed2ee"/>
<rect x="88.00" y="341" width="44.00" height="1" fill="#58b4ee"/>
<rect x="88.00" y="342" width="44.00" height="2" fill="#4488d4"/>
<rect x="88.00" y="344" width="44.00" height="1" fill="#58b4ee"/>
<rect x="88.00" y="345" width="44.00" height="2" fill="#60bcee"/>
<rect x="88.00" y="347" width="44.00" height="1" fill="#4a96dc"/>
<rect x="88.00" y="348" width="44.00" height="2" fill="#60bcee"/>
<rect x="88.00" y="350" width="44.00" height="1" fill="#74c4ee"/>
<rect x="88.00" y="351" width="44.00" height="1" fill="#a8e2e7"/>
<rect x="88.00" y="352" width="44.00" height="1" fill="#c1ebdd"/>
<rect x="88.00" y="353" width="44.00" height="1" fill="#a8e2e7"/>
<rect x="88.00" y="354" width="44.00" height="1" fill="#60bcee"/>
<rect x="88.00" y="355" width="44.00" height="5" fill="#b2e8e4"/>
<rect x="88.00" y="360" width="44.00" height="1" fill="#dceec9"/>
<rect x="88.00" y="361" width="44.00" height="1" fill="#d0eed6"/>
<rect x="88.00" y="362" width="44.00" height="1" fill="#4488d4"/>
<rect x="88.00" y="363" width="44.00" height="1" fill="#60bcee"/>
<rect x="88.00" y="364" width="44.00" height="3" fill="#8ed2ee"/>
<rect x="88.00" y="367" width="44.00" height="1" fill="#81cbee"/>
<rect x="88.00" y="368" width="44.00" height="1" fill="#60bcee"/>
<rect x="88.00" y="369" width="44.00" height="1" fill="#8ed2ee"/>
<rect x="88.00" y="370" width="44.00" height="2" fill="#b2e8e4"/>
<rect x="88.00" y="372" width="44.00" height="1" fill="#8ed2ee"/>
<rect x="88.00" y="373" width="44.00" height="3" fill="#60bcee"/>
<rect x="88.00" y="376" width="44.00" height="1" fill="#c1ebdd"/>
<rect x="88.00" y="377" width="44.00" height="2" fill="#dceec9"/>
<rect x="88.00" y="379" width="44.00" height="1" fill="#e8eebc"/>
<rect x="88.00" y="380" width="44.00" height="1" fill="#dceec9"/>
<rect x="88.00" y="381" width="44.00" height="1" fill="#ecdfa4"/>
<rect x="88.00" y="382" width="44.00" height="1" fill="#efd892"/>
<rect x="88.00" y="383" width="44.00" height="1" fill="#e8eebc"/>
<rect x="88.00" y="384" width="44.00" height="1" fill="#ecdfa4"/>
<rect x="88.00" y="385" width="44.00" height="1" fill="#a8e2e7"/>
<rect x="88.00" y="386" width="44.00" height="1" fill="#74c4ee"/>
<rect x="88.00" y="387" width="44.00" height="3" fill="#60bcee"/>
<rect x="88.00" y="390" width="44.00" height="1" fill="#74c4ee"/>
<rect x="88.00" y="391" width="44.00" height="2" fill="#8ed2ee"/>
<rect x="88.00" y="393" width="44.00" height="3" fill="#60bcee"/>
<rect x="88.00" y="396" width="44.00" height="1" fill="#d0eed6"/>
<rect x="88.00" y="397" width="44.00" height="2" fill="#ecdfa4"/>
<rect x="88.00" y="399" width="44.00" height="1" fill="#efd892"/>
<rect x="88.00" y="400" width="44.00" height="1" fill="#f0b365"/>
<rect x="88.00" y="401" width="44.00" height="1" fill="#efab5d"/>
<rect x="88.00" y="402" width="44.00" height="2" fill="#f0b365"/>
<rect x="88.00" y="404" width="44.00" height="1" fill="#f2d080"/>
<rect x="88.00" y="405" width="44.00" height="1" fill="#efd892"/>
<rect x="88.00" y="406" width="44.00" height="1" fill="#efab5d"/>
<rect x="88.00" y="407" width="44.00" height="1" fill="#ea9a50"/>
<rect x="88.00" y="408" width="44.00" height="1" fill="#e18944"/>
<rect x="88.00" y="409" width="44.00" height="1" fill="#dd813e"/>
<rect x="88.00" y="410" width="44.00" height="1" fill="#ea9a50"/>
<rect x="88.00" y="411" width="44.00" height="1" fill="#e18944"/>
<rect x="88.00" y="412" width="44.00" height="1" fill="#eda256"/>
<rect x="88.00" y="413" width="44.00" height="1" fill="#f2c676"/>
<rect x="88.00" y="414" width="44.00" height="1" fill="#eda256"/>
<rect x="88.00" y="415" width="44.00" height="1" fill="#ea9a50"/>
<rect x="88.00" y="416" width="44.00" height="2" fill="#eda256"/>
<rect x="88.00" y="418" width="44.00" height="1" fill="#f0b365"/>
<rect x="88.00" y="419" width="44.00" height="1" fill="#f2c676"/>
<rect x="88.00" y="420" width="44.00" height="1" fill="#ea9a50"/>
<rect x="88.00" y="421" width="44.00" height="2" fill="#dd813e"/>
<rect x="88.00" y="423" width="44.00" height="1" fill="#ea9a50"/>
<rect x="88.00" y="424" width="44.00" height="1" fill="#efab5d"/>
<rect x="88.00" y="425" width="44.00" height="1" fill="#ea9a50"/>
<rect x="88.00" y="426" width="44.00" height="1" fill="#eda256"/>
<rect x="88.00" y="427" width="44.00" height="1" fill="#e18944"/>
<rect x="88.00" y="428" width="44.00" height="1" fill="#dd813e"/>
<rect x="88.00" y="429" width="44.00" height="2" fill="#ea9a50"/>
<rect x="88.00" y="431" width="44.00" height="1" fill="#dd813e"/>
<rect x="88.00" y="432" width="44.00" height="1" fill="#d87838"/>
<rect x="88.00" y="433" width="44.00" height="1" fill="#cc5e2d"/>
<rect x="132.00" y="84" width="44.00" height="3" fill="#b13724"/>
<rect x="132.00" y="87" width="44.00" height="1" fill="#c04a28"/>
<rect x="132.00" y="88" width="44.00" height="1" fill="#d87838"/>
<rect x="132.00" y="89" width="44.00" height="1" fill="#c6542b"/>
<rect x="132.00" y="90" width="44.00" height="3" fill="#b94126"/>
<rect x="132.00" y="93" width="44.00" height="1" fill="#c6542b"/>
<rect x="132.00" y="94" width="44.00" height="2" fill="#cc5e2d"/>
<rect x="132.00" y="96" width="44.00" height="1" fill="#c04a28"/>
<rect x="132.00" y="97" width="44.00" height="2" fill="#d26830"/>
<rect x="132.00" y="99" width="44.00" height="1" fill="#cc5e2d"/>
<rect x="132.00" y="100" width="44.00" height="1" fill="#d26830"/>
<rect x="132.00" y="101" width="44.00" height="1" fill="#d87838"/>
<rect x="132.00" y="102" width="44.00" height="1" fill="#dd813e"/>
<rect x="132.00" y="103" width="44.00" height="1" fill="#c04a28"/>
<rect x="132.00" y="104" width="44.00" height="4" fill="#9a1520"/>
<rect x="132.00" y="108" width="44.00" height="1" fill="#aa2e22"/>
<rect x="132.00" y="109" width="44.00" height="2" fill="#c6542b"/>
<rect x="132.00" y="111" width="44.00" height="1" fill="#b13724"/>
<rect x="132.00" y="112" width="44.00" height="1" fill="#c04a28"/>
<rect x="132.00" y="113" width="44.00" height="1" fill="#aa2e22"/>
<rect x="132.00" y="114" width="44.00" height="1" fill="#9f1d21"/>
<rect x="132.00" y="115" width="44.00" height="1" fill="#aa2e22"/>
<rect x="132.00" y="116" width="44.00" height="1" fill="#d26830"/>
<rect x="132.00" y="117" width="44.00" height="1" fill="#9f1d21"/>
<rect x="132.00" y="118" width="44.00" height="4" fill="#9a1520"/>
<rect x="132.00" y="122" width="44.00" height="1" fill="#aa2e22"/>
<rect x="132.00" y="123" width="44.00" height="1" fill="#9f1d21"/>
<rect x="132.00" y="124" width="44.00" height="6" fill="#9a1520"/>
<rect x="132.00" y="130" width="44.00" height="2" fill="#a52621"/>
<rect x="132.00" y="132" width="44.00" height="2" fill="#9a1520"/>
<rect x="132.00" y="134" width="44.00" height="1" fill="#aa2e22"/>
<rect x="132.00" y="135" width="44.00" height="1" fill="#cc5e2d"/>
<rect x="132.00" y="136" width="44.00" height="1" fill="#d87838"/>
<rect x="132.00" y="137" width="44.00" height="1" fill="#d26830"/>
<rect x="132.00" y="138" width="44.00" height="1" fill="#c04a28"/>
<rect x="132.00" y="139" width="44.00" height="1" fill="#9f1d21"/>
<rect x="132.00" y="140" width="44.00" height="1" fill="#9a1520"/>
<rect x="132.00" y="141" width="44.00" height="1" fill="#a52621"/>
<rect x="132.00" y="142" width="44.00" height="6" fill="#9a1520"/>
<rect x="132.00" y="148" width="44.00" height="1" fill="#a52621"/>
<rect x="132.00" y="149" width="44.00" height="1" fill="#b13724"/>
<rect x="132.00" y="150" width="44.00" height="1" fill="#c04a28"/>
<rect x="132.00" y="151" width="44.00" height="1" fill="#b94126"/>
<rect x="132.00" y="152" width="44.00" height="1" fill="#b13724"/>
<rect x="132.00" y="153" width="44.00" height="1" fill="#9f1d21"/>
<rect x="132.00" y="154" width="44.00" height="1" fill="#aa2e22"/>
<rect x="132.00" y="155" width="44.00" height="1" fill="#b94126"/>
<rect x="132.00" y="156" width="44.00" height="1" fill="#b13724"/>
<rect x="132.00" y="157" width="44.00" height="1" fill="#b94126"/>
<rect x="132.00" y="158" width="44.00" height="1" fill="#a52621"/>
<rect x="132.00" y="159" width="44.00" height="6" fill="#9a1520"/>
<rect x="132.00" y="165" width="44.00" height="2" fill="#c04a28"/>
<rect x="132.00" y="167" width="44.00" height="1" fill="#9f1d21"/>
<rect x="132.00" y="168" width="44.00" height="1" fill="#aa2e22"/>
<rect x="132.00" y="169" width="44.00" height="1" fill="#c04a28"/>
<rect x="132.00" y="170" width="44.00" height="1" fill="#b94126"/>
<rect x="132.00" y="171" width="44.00" height="1" fill="#aa2e22"/>
<rect x="132.00" y="172" width="44.00" height="1" fill="#b13724"/>
<rect x="132.00" y="173" width="44.00" height="1" fill="#d26830"/>
<rect x="132.00" y="174" width="44.00" height="1" fill="#cc5e2d"/>
<rect x="132.00" y="175" width="44.00" height="5" fill="#9a1520"/>
<rect x="132.00" y="180" width="44.00" height="1" fill="#a52621"/>
<rect x="132.00" y="181" width="44.00" height="1" fill="#b13724"/>
<rect x="132.00" y="182" width="44.00" height="1" fill="#9f1d21"/>
<rect x="132.00" y="183" width="44.00" height="1" fill="#aa2e22"/>
<rect x="132.00" y="184" width="44.00" height="1" fill="#c6542b"/>
<rect x="132.00" y="185" width="44.00" height="1" fill="#d87838"/>
<rect x="132.00" y="186" width="44.00" height="1" fill="#c6542b"/>
<rect x="132.00" y="187" width="44.00" height="1" fill="#d87838"/>
<rect x="132.00" y="188" width="44.00" height="1" fill="#e6924a"/>
<rect x="132.00" y="189" width="44.00" height="1" fill="#ea9a50"/>
<rect x="132.00" y="190" width="44.00" height="1" fill="#c04a28"/>
<rect x="132.00" y="191" width="44.00" height="1" fill="#9a1520"/>
<rect x="132.00" y="192" width="44.00" height="1" fill="#aa2e22"/>
<rect x="132.00" y="193" width="44.00" height="1" fill="#d26830"/>
<rect x="132.00" y="194" width="44.00" height="1" fill="#ea9a50"/>
<rect x="132.00" y="195" width="44.00" height="1" fill="#eda256"/>
<rect x="132.00" y="196" width="44.00" height="1" fill="#d87838"/>
<rect x="132.00" y="197" width="44.00" height="1" fill="#9f1d21"/>
<rect x="132.00" y="198" width="44.00" height="1" fill="#9a1520"/>
<rect x="132.00" y="199" width="44.00" height="1" fill="#aa2e22"/>
<rect x="132.00" y="200" width="44.00" height="1" fill="#d26830"/>
<rect x="132.00" y="201" width="44.00" height="1" fill="#dd813e"/>
<rect x="132.00" y="202" width="44.00" height="1" fill="#d87838"/>
<rect x="132.00" y="203" width="44.00" height="1" fill="#b13724"/>
<rect x="132.00" y="204" width="44.00" height="2" fill="#9a1520"/>
<rect x="132.00" y="206" width="44.00" height="1" fill="#9f1d21"/>
<rect x="132.00" y="207" width="44.00" height="1" fill="#c04a28"/>
<rect x="132.00" y="208" width="44.00" height="1" fill="#dd813e"/>
<rect x="132.00" y="209" width="44.00" height="1" fill="#cc5e2d"/>
<rect x="132.00" y="210" width="44.00" height="1" fill="#dd813e"/>
<rect x="132.00" y="211" width="44.00" height="2" fill="#eda256"/>
<rect x="132.00" y="213" width="44.00" height="1" fill="#e6924a"/>
<rect x="132.00" y="214" width="44.00" height="1" fill="#d87838"/>
<rect x="132.00" y="215" width="44.00" height="1" fill="#dd813e"/>
<rect x="132.00" y="216" width="44.00" height="1" fill="#e6924a"/>
<rect x="132.00" y="217" width="44.00" height="1" fill="#eda256"/>
<rect x="132.00" y="218" width="44.00" height="2" fill="#efab5d"/>
<rect x="132.00" y="220" width="44.00" height="1" fill="#ea9a50"/>
<rect x="132.00" y="221" width="44.00" height="1" fill="#d87838"/>
<rect x="132.00" y="222" width="44.00" height="2" fill="#b13724"/>
<rect x="132.00" y="224" width="44.00" height="1" fill="#c6542b"/>
<rect x="132.00" y="225" width="44.00" height="1" fill="#dd813e"/>
<rect x="132.00" y="226" width="44.00" height="1" fill="#d87838"/>
<rect x="132.00" y="227" width="44.00" height="1" fill="#dd813e"/>
<rect x="132.00" y="228" width="44.00" height="1" fill="#e6924a"/>
<rect x="132.00" y="229" width="44.00" height="1" fill="#e18944"/>
<rect x="132.00" y="230" width="44.00" height="1" fill="#dd813e"/>
<rect x="132.00" y="231" width="44.00" height="1" fill="#c6542b"/>
<rect x="132.00" y="232" width="44.00" height="1" fill="#c04a28"/>
<rect x="132.00" y="233" width="44.00" height="1" fill="#d26830"/>
<rect x="132.00" y="234" width="44.00" height="1" fill="#c6542b"/>
<rect x="132.00" y="235" width="44.00" height="1" fill="#b13724"/>
<rect x="132.00" y="236" width="44.00" height="1" fill="#b94126"/>
<rect x="132.00" y="237" width="44.00" height="1" fill="#cc5e2d"/>
<rect x="132.00" y="238" width="44.00" height="1" fill="#ea9a50"/>
<rect x="132.00" y="239" width="44.00" height="1" fill="#f2c676"/>
<rect x="132.00" y="240" width="44.00" height="1" fill="#f2d080"/>
<rect x="132.00" y="241" width="44.00" height="1" fill="#f2bc6c"/>
<rect x="132.00" y="242" width="44.00" height="1" fill="#f2d080"/>
<rect x="132.00" y="243" width="44.00" height="1" fill="#f2c676"/>
<rect x="132.00" y="244" width="44.00" height="1" fill="#ea9a50"/>
<rect x="132.00" y="245" width="44.00" height="1" fill="#efab5d"/>
<rect x="132.00" y="246" width="44.00" height="1" fill="#f0b365"/>
<rect x="132.00" y="247" width="44.00" height="1" fill="#f2c676"/>
<rect x="132.00" y="248" width="44.00" height="1" fill="#f0b365"/>
<rect x="132.00" y="249" width="44.00" height="1" fill="#efd892"/>
<rect x="132.00" y="250" width="44.00" height="1" fill="#f2bc6c"/>
<rect x="132.00" y="251" width="44.00" height="2" fill="#e8eebc"/>
<rect x="132.00" y="253" width="44.00" height="1" fill="#efd892"/>
<rect x="132.00" y="254" width="44.00" height="1" fill="#8ed2ee"/>
<rect x="132.00" y="255" width="44.00" height="1" fill="#b2e8e4"/>
<rect x="132.00" y="256" width="44.00" height="1" fill="#c1ebdd"/>
<rect x="132.00" y="257" width="44.00" height="1" fill="#dceec9"/>
<rect x="132.00" y="258" width="44.00" height="1" fill="#c1ebdd"/>
<rect x="132.00" y="259" width="44.00" height="1" fill="#f2d080"/>
<rect x="132.00" y="260" width="44.00" height="1" fill="#e8eebc"/>
<rect x="132.00" y="261" width="44.00" height="1" fill="#d0eed6"/>
<rect x="132.00" y="262" width="44.00" height="1" fill="#9edcea"/>
<rect x="132.00" y="263" width="44.00" height="2" fill="#74c4ee"/>
<rect x="132.00" y="265" width="44.00" height="1" fill="#9edcea"/>
<rect x="132.00" y="266" width="44.00" height="2" fill="#e8eebc"/>
<rect x="132.00" y="268" width="44.00" height="1" fill="#dceec9"/>
<rect x="132.00" y="269" width="44.00" height="3" fill="#b2e8e4"/>
<rect x="132.00" y="272" width="44.00" height="1" fill="#8ed2ee"/>
<rect x="132.00" y="273" width="44.00" height="1" fill="#58b4ee"/>
<rect x="132.00" y="274" width="44.00" height="1" fill="#50a4e4"/>
<rect x="132.00" y="275" width="44.00" height="1" fill="#74c4ee"/>
<rect x="132.00" y="276" width="44.00" height="1" fill="#dceec9"/>
<rect x="132.00" y="277" width="44.00" height="1" fill="#efd892"/>
<rect x="132.00" y="278" width="44.00" height="2" fill="#efab5d"/>
<rect x="132.00" y="280" width="44.00" height="1" fill="#f2c676"/>
<rect x="132.00" y="281" width="44.00" height="1" fill="#e8eebc"/>
<rect x="132.00" y="282" width="44.00" height="1" fill="#c1ebdd"/>
<rect x="132.00" y="283" width="44.00" height="1" fill="#d0eed6"/>
<rect x="132.00" y="284" width="44.00" height="1" fill="#ecdfa4"/>
<rect x="132.00" y="285" width="44.00" height="1" fill="#f2c676"/>
<rect x="132.00" y="286" width="44.00" height="1" fill="#efd892"/>
<rect x="132.00" y="287" width="44.00" height="1" fill="#d0eed6"/>
<rect x="132.00" y="288" width="44.00" height="1" fill="#b2e8e4"/>
<rect x="132.00" y="289" width="44.00" height="1" fill="#f2bc6c"/>
<rect x="132.00" y="290" width="44.00" height="1" fill="#efab5d"/>
<rect x="132.00" y="291" width="44.00" height="1" fill="#f2c676"/>
<rect x="132.00" y="292" width="44.00" height="1" fill="#e8eebc"/>
<rect x="132.00" y="293" width="44.00" height="1" fill="#dceec9"/>
<rect x="132.00" y="294" width="44.00" height="1" fill="#ecdfa4"/>
<rect x="132.00" y="295" width="44.00" height="1" fill="#efab5d"/>
<rect x="132.00" y="296" width="44.00" height="1" fill="#f2c676"/>
<rect x="132.00" y="297" width="44.00" height="1" fill="#d0eed6"/>
<rect x="132.00" y="298" width="44.00" height="1" fill="#b2e8e4"/>
<rect x="132.00" y="299" width="44.00" height="1" fill="#d0eed6"/>
<rect x="132.00" y="300" width="44.00" height="1" fill="#ecdfa4"/>
<rect x="132.00" y="301" width="44.00" height="1" fill="#e8eebc"/>
<rect x="132.00" y="302" width="44.00" height="4" fill="#b2e8e4"/>
<rect x="132.00" y="306" width="44.00" height="1" fill="#9edcea"/>
<rect x="132.00" y="307" width="44.00" height="1" fill="#dceec9"/>
<rect x="132.00" y="308" width="44.00" height="1" fill="#e8eebc"/>
<rect x="132.00" y="309" width="44.00" height="1" fill="#a8e2e7"/>
<rect x="132.00" y="310" width="44.00" height="1" fill="#8ed2ee"/>
<rect x="132.00" y="311" width="44.00" height="1" fill="#60bcee"/>
<rect x="132.00" y="312" width="44.00" height="1" fill="#4a96dc"/>
<rect x="132.00" y="313" width="44.00" height="1" fill="#60bcee"/>
<rect x="132.00" y="314" width="44.00" height="1" fill="#9edcea"/>
<rect x="132.00" y="315" width="44.00" height="4" fill="#b2e8e4"/>
<rect x="132.00" y="319" width="44.00" height="1" fill="#c1ebdd"/>
<rect x="132.00" y="320" width="44.00" height="1" fill="#ecdfa4"/>
<rect x="132.00" y="321" width="44.00" height="1" fill="#efd892"/>
<rect x="132.00" y="322" width="44.00" height="1" fill="#d0eed6"/>
<rect x="132.00" y="323" width="44.00" height="1" fill="#b2e8e4"/>
<rect x="132.00" y="324" width="44.00" height="1" fill="#dceec9"/>
<rect x="132.00" y="325" width="44.00" height="1" fill="#e8eebc"/>
<rect x="132.00" y="326" width="44.00" height="1" fill="#a8e2e7"/>
<rect x="132.00" y="327" width="44.00" height="1" fill="#4a96dc"/>
<rect x="132.00" y="328" width="44.00" height="1" fill="#4488d4"/>
<rect x="132.00" y="329" width="44.00" height="1" fill="#4a96dc"/>
<rect x="132.00" y="330" width="44.00" height="2" fill="#50a4e4"/>
<rect x="132.00" y="332" width="44.00" height="1" fill="#4488d4"/>
<rect x="132.00" y="333" width="44.00" height="1" fill="#60bcee"/>
<rect x="132.00" y="334" width="44.00" height="1" fill="#8ed2ee"/>
<rect x="132.00" y="335" width="44.00" height="1" fill="#50a4e4"/>
<rect x="132.00" y="336" width="44.00" height="1" fill="#74c4ee"/>
<rect x="132.00" y="337" width="44.00" height="1" fill="#50a4e4"/>
<rect x="132.00" y="338" width="44.00" height="1" fill="#60bcee"/>
<rect x="132.00" y="339" width="44.00" height="1" fill="#74c4ee"/>
<rect x="132.00" y="340" width="44.00" height="1" fill="#4a96dc"/>
<rect x="132.00" y="341" width="44.00" height="1" fill="#74c4ee"/>
<rect x="132.00" y="342" width="44.00" height="1" fill="#8ed2ee"/>
<rect x="132.00" y="343" width="44.00" height="1" fill="#50a4e4"/>
<rect x="132.00" y="344" width="44.00" height="1" fill="#60bcee"/>
<rect x="132.00" y="345" width="44.00" height="1" fill="#8ed2ee"/>
<rect x="132.00" y="346" width="44.00" height="1" fill="#81cbee"/>
<rect x="132.00" y="347" width="44.00" height="1" fill="#8ed2ee"/>
<rect x="132.00" y="348" width="44.00" height="1" fill="#60bcee"/>
<rect x="132.00" y="349" width="44.00" height="1" fill="#4488d4"/>
<rect x="132.00" y="350" width="44.00" height="1" fill="#58b4ee"/>
<rect x="132.00" y="351" width="44.00" height="1" fill="#8ed2ee"/>
<rect x="132.00" y="352" width="44.00" height="1" fill="#74c4ee"/>
<rect x="132.00" y="353" width="44.00" height="1" fill="#4a96dc"/>
<rect x="132.00" y="354" width="44.00" height="1" fill="#74c4ee"/>
<rect x="132.00" y="355" width="44.00" height="1" fill="#b2e8e4"/>
<rect x="132.00" y="356" width="44.00" height="1" fill="#9edcea"/>
<rect x="132.00" y="357" width="44.00" height="1" fill="#8ed2ee"/>
<rect x="132.00" y="358" width="44.00" height="1" fill="#b2e8e4"/>
<rect x="132.00" y="359" width="44.00" height="1" fill="#9edcea"/>
<rect x="132.00" y="360" width="44.00" height="1" fill="#4a96dc"/>
<rect x="132.00" y="361" width="44.00" height="1" fill="#50a4e4"/>
<rect x="132.00" y="362" width="44.00" height="1" fill="#81cbee"/>
<rect x="132.00" y="363" width="44.00" height="1" fill="#dceec9"/>
<rect x="132.00" y="364" width="44.00" height="1" fill="#efd892"/>
<rect x="132.00" y="365" width="44.00" height="1" fill="#ecdfa4"/>
<rect x="132.00" y="366" width="44.00" height="1" fill="#a8e2e7"/>
<rect x="132.00" y="367" width="44.00" height="1" fill="#9edcea"/>
<rect x="132.00" y="368" width="44.00" height="1" fill="#ecdfa4"/>
<rect x="132.00" y="369" width="44.00" height="1" fill="#f2c676"/>
<rect x="132.00" y="370" width="44.00" height="1" fill="#ecdfa4"/>
<rect x="132.00" y="371" width="44.00" height="1" fill="#b2e8e4"/>
<rect x="132.00" y="372" width="44.00" height="1" fill="#c1ebdd"/>
<rect x="132.00" y="373" width="44.00" height="1" fill="#a8e2e7"/>
<rect x="132.00" y="374" width="44.00" height="2" fill="#b2e8e4"/>
<rect x="132.00" y="376" width="44.00" height="1" fill="#50a4e4"/>
<rect x="132.00" y="377" width="44.00" height="1" fill="#4a96dc"/>
<rect x="132.00" y="378" width="44.00" height="1" fill="#50a4e4"/>
<rect x="132.00" y="379" width="44.00" height="1" fill="#60bcee"/>
<rect x="132.00" y="380" width="44.00" height="1" fill="#9edcea"/>
<rect x="132.00" y="381" width="44.00" height="1" fill="#dceec9"/>
<rect x="132.00" y="382" width="44.00" height="1" fill="#a8e2e7"/>
<rect x="132.00" y="383" width="44.00" height="2" fill="#c1ebdd"/>
<rect x="132.00" y="385" width="44.00" height="1" fill="#9edcea"/>
<rect x="132.00" y="386" width="44.00" height="4" fill="#e8eebc"/>
<rect x="132.00" y="390" width="44.00" height="1" fill="#dceec9"/>
<rect x="132.00" y="391" width="44.00" height="2" fill="#efd892"/>
<rect x="132.00" y="393" width="44.00" height="1" fill="#f2bc6c"/>
<rect x="132.00" y="394" width="44.00" height="1" fill="#ecdfa4"/>
<rect x="132.00" y="395" width="44.00" height="1" fill="#e8eebc"/>
<rect x="132.00" y="396" width="44.00" height="1" fill="#ecdfa4"/>
<rect x="132.00" y="397" width="44.00" height="1" fill="#efd892"/>
<rect x="132.00" y="398" width="44.00" height="1" fill="#ecdfa4"/>
<rect x="132.00" y="399" width="44.00" height="1" fill="#e8eebc"/>
<rect x="132.00" y="400" width="44.00" height="1" fill="#efd892"/>
<rect x="132.00" y="401" width="44.00" height="1" fill="#e8eebc"/>
<rect x="132.00" y="402" width="44.00" height="1" fill="#a8e2e7"/>
<rect x="132.00" y="403" width="44.00" height="1" fill="#b2e8e4"/>
<rect x="132.00" y="404" width="44.00" height="1" fill="#9edcea"/>
<rect x="132.00" y="405" width="44.00" height="1" fill="#b2e8e4"/>
<rect x="132.00" y="406" width="44.00" height="3" fill="#d0eed6"/>
<rect x="132.00" y="409" width="44.00" height="1" fill="#eda256"/>
<rect x="132.00" y="410" width="44.00" height="1" fill="#ea9a50"/>
<rect x="132.00" y="411" width="44.00" height="1" fill="#e6924a"/>
<rect x="132.00" y="412" width="44.00" height="1" fill="#dd813e"/>
<rect x="132.00" y="413" width="44.00" height="1" fill="#e6924a"/>
<rect x="132.00" y="414" width="44.00" height="2" fill="#ea9a50"/>
<rect x="132.00" y="416" width="44.00" height="1" fill="#e6924a"/>
<rect x="132.00" y="417" width="44.00" height="1" fill="#f0b365"/>
<rect x="132.00" y="418" width="44.00" height="1" fill="#eda256"/>
<rect x="132.00" y="419" width="44.00" height="1" fill="#ea9a50"/>
<rect x="132.00" y="420" width="44.00" height="1" fill="#f0b365"/>
<rect x="132.00" y="421" width="44.00" height="1" fill="#eda256"/>
<rect x="132.00" y="422" width="44.00" height="1" fill="#f2bc6c"/>
<rect x="132.00" y="423" width="44.00" height="1" fill="#f0b365"/>
<rect x="132.00" y="424" width="44.00" height="1" fill="#f2bc6c"/>
<rect x="132.00" y="425" width="44.00" height="1" fill="#ea9a50"/>
<rect x="132.00" y="426" width="44.00" height="1" fill="#dd813e"/>
<rect x="132.00" y="427" width="44.00" height="1" fill="#d87838"/>
<rect x="132.00" y="428" width="44.00" height="1" fill="#e6924a"/>
<rect x="132.00" y="429" width="44.00" height="1" fill="#efab5d"/>
<rect x="132.00" y="430" width="44.00" height="1" fill="#eda256"/>
<rect x="132.00" y="431" width="44.00" height="1" fill="#f0b365"/>
<rect x="132.00" y="432" width="44.00" height="1" fill="#eda256"/>
<rect x="132.00" y="433" width="44.00" height="1" fill="#efab5d"/>
<rect x="176.00" y="84" width="44.00" height="3" fill="#ea9a50"/>
<rect x="176.00" y="87" width="44.00" height="1" fill="#d87838"/>
<rect x="176.00" y="88" width="44.00" height="1" fill="#b13724"/>
<rect x="176.00" y="89" width="44.00" height="1" fill="#aa2e22"/>
<rect x="176.00" y="90" width="44.00" height="1" fill="#c04a28"/>
<rect x="176.00" y="91" width="44.00" height="1" fill="#b13724"/>
<rect x="176.00" y="92" width="44.00" height="1" fill="#d87838"/>
<rect x="176.00" y="93" width="44.00" height="1" fill="#ea9a50"/>
<rect x="176.00" y="94" width="44.00" height="1" fill="#d87838"/>
<rect x="176.00" y="95" width="44.00" height="1" fill="#e6924a"/>
<rect x="176.00" y="96" width="44.00" height="1" fill="#ea9a50"/>
<rect x="176.00" y="97" width="44.00" height="1" fill="#d87838"/>
<rect x="176.00" y="98" width="44.00" height="1" fill="#aa2e22"/>
<rect x="176.00" y="99" width="44.00" height="1" fill="#c04a28"/>
<rect x="176.00" y="100" width="44.00" height="1" fill="#aa2e22"/>
<rect x="176.00" y="101" width="44.00" height="1" fill="#c6542b"/>
<rect x="176.00" y="102" width="44.00" height="1" fill="#b13724"/>
<rect x="176.00" y="103" width="44.00" height="5" fill="#9a1520"/>
<rect x="176.00" y="108" width="44.00" height="1" fill="#cc5e2d"/>
<rect x="176.00" y="109" width="44.00" height="1" fill="#e6924a"/>
<rect x="176.00" y="110" width="44.00" height="1" fill="#dd813e"/>
<rect x="176.00" y="111" width="44.00" height="1" fill="#aa2e22"/>
<rect x="176.00" y="112" width="44.00" height="1" fill="#9f1d21"/>
<rect x="176.00" y="113" width="44.00" height="2" fill="#9a1520"/>
<rect x="176.00" y="115" width="44.00" height="1" fill="#aa2e22"/>
<rect x="176.00" y="116" width="44.00" height="1" fill="#c6542b"/>
<rect x="176.00" y="117" width="44.00" height="1" fill="#cc5e2d"/>
<rect x="176.00" y="118" width="44.00" height="1" fill="#c04a28"/>
<rect x="176.00" y="119" width="44.00" height="1" fill="#cc5e2d"/>
<rect x="176.00" y="120" width="44.00" height="1" fill="#d87838"/>
<rect x="176.00" y="121" width="44.00" height="1" fill="#e6924a"/>
<rect x="176.00" y="122" width="44.00" height="1" fill="#dd813e"/>
<rect x="176.00" y="123" width="44.00" height="1" fill="#b13724"/>
<rect x="176.00" y="124" width="44.00" height="1" fill="#cc5e2d"/>
<rect x="176.00" y="125" width="44.00" height="1" fill="#e6924a"/>
<rect x="176.00" y="126" width="44.00" height="1" fill="#dd813e"/>
<rect x="176.00" y="127" width="44.00" height="6" fill="#9a1520"/>
<rect x="176.00" y="133" width="44.00" height="1" fill="#9f1d21"/>
<rect x="176.00" y="134" width="44.00" height="1" fill="#a52621"/>
<rect x="176.00" y="135" width="44.00" height="1" fill="#c04a28"/>
<rect x="176.00" y="136" width="44.00" height="1" fill="#cc5e2d"/>
<rect x="176.00" y="137" width="44.00" height="1" fill="#c6542b"/>
<rect x="176.00" y="138" width="44.00" height="1" fill="#9f1d21"/>
<rect x="176.00" y="139" width="44.00" height="1" fill="#9a1520"/>
<rect x="176.00" y="140" width="44.00" height="1" fill="#c04a28"/>
<rect x="176.00" y="141" width="44.00" height="1" fill="#aa2e22"/>
<rect x="176.00" y="142" width="44.00" height="14" fill="#9a1520"/>
<rect x="176.00" y="156" width="44.00" height="1" fill="#c6542b"/>
<rect x="176.00" y="157" width="44.00" height="2" fill="#cc5e2d"/>
<rect x="176.00" y="159" width="44.00" height="1" fill="#c04a28"/>
<rect x="176.00" y="160" width="44.00" height="5" fill="#9a1520"/>
<rect x="176.00" y="165" width="44.00" height="1" fill="#b13724"/>
<rect x="176.00" y="166" width="44.00" height="3" fill="#c04a28"/>
<rect x="176.00" y="169" width="44.00" height="2" fill="#b94126"/>
<rect x="176.00" y="171" width="44.00" height="1" fill="#c6542b"/>
<rect x="176.00" y="172" width="44.00" height="1" fill="#9f1d21"/>
<rect x="176.00" y="173" width="44.00" height="1" fill="#b13724"/>
<rect x="176.00" y="174" width="44.00" height="2" fill="#9f1d21"/>
<rect x="176.00" y="176" width="44.00" height="1" fill="#b13724"/>
<rect x="176.00" y="177" width="44.00" height="3" fill="#d87838"/>
<rect x="176.00" y="180" width="44.00" height="1" fill="#cc5e2d"/>
<rect x="176.00" y="181" width="44.00" height="1" fill="#9f1d21"/>
<rect x="176.00" y="182" width="44.00" height="3" fill="#9a1520"/>
<rect x="176.00" y="185" width="44.00" height="1" fill="#aa2e22"/>
<rect x="176.00" y="186" width="44.00" height="2" fill="#d87838"/>
<rect x="176.00" y="188" width="44.00" height="1" fill="#cc5e2d"/>
<rect x="176.00" y="189" width="44.00" height="1" fill="#d87838"/>
<rect x="176.00" y="190" width="44.00" height="1" fill="#efab5d"/>
<rect x="176.00" y="191" width="44.00" height="2" fill="#f2bc6c"/>
<rect x="176.00" y="193" width="44.00" height="1" fill="#f0b365"/>
<rect x="176.00" y="194" width="44.00" height="1" fill="#ea9a50"/>
<rect x="176.00" y="195" width="44.00" height="1" fill="#c6542b"/>
<rect x="176.00" y="196" width="44.00" height="2" fill="#aa2e22"/>
<rect x="176.00" y="198" width="44.00" height="1" fill="#b13724"/>
<rect x="176.00" y="199" width="44.00" height="1" fill="#aa2e22"/>
<rect x="176.00" y="200" width="44.00" height="1" fill="#9f1d21"/>
<rect x="176.00" y="201" width="44.00" height="1" fill="#aa2e22"/>
<rect x="176.00" y="202" width="44.00" height="1" fill="#cc5e2d"/>
<rect x="176.00" y="203" width="44.00" height="1" fill="#dd813e"/>
<rect x="176.00" y="204" width="44.00" height="1" fill="#c6542b"/>
<rect x="176.00" y="205" width="44.00" height="1" fill="#d87838"/>
<rect x="176.00" y="206" width="44.00" height="1" fill="#e6924a"/>
<rect x="176.00" y="207" width="44.00" height="1" fill="#ea9a50"/>
<rect x="176.00" y="208" width="44.00" height="1" fill="#efab5d"/>
<rect x="176.00" y="209" width="44.00" height="1" fill="#f2bc6c"/>
<rect x="176.00" y="210" width="44.00" height="1" fill="#f0b365"/>
<rect x="176.00" y="211" width="44.00" height="1" fill="#f2bc6c"/>
<rect x="176.00" y="212" width="44.00" height="1" fill="#efab5d"/>
<rect x="176.00" y="213" width="44.00" height="1" fill="#e6924a"/>
<rect x="176.00" y="214" width="44.00" height="1" fill="#d87838"/>
<rect x="176.00" y="215" width="44.00" height="1" fill="#ea9a50"/>
<rect x="176.00" y="216" width="44.00" height="1" fill="#f0b365"/>
<rect x="176.00" y="217" width="44.00" height="1" fill="#d87838"/>
<rect x="176.00" y="218" width="44.00" height="4" fill="#c04a28"/>
<rect x="176.00" y="222" width="44.00" height="1" fill="#c6542b"/>
<rect x="176.00" y="223" width="44.00" height="1" fill="#d87838"/>
<rect x="176.00" y="224" width="44.00" height="1" fill="#efab5d"/>
<rect x="176.00" y="225" width="44.00" height="1" fill="#d87838"/>
<rect x="176.00" y="226" width="44.00" height="2" fill="#b13724"/>
<rect x="176.00" y="228" width="44.00" height="1" fill="#cc5e2d"/>
<rect x="176.00" y="229" width="44.00" height="3" fill="#ea9a50"/>
<rect x="176.00" y="232" width="44.00" height="1" fill="#f2bc6c"/>
<rect x="176.00" y="233" width="44.00" height="2" fill="#e8eebc"/>
<rect x="176.00" y="235" width="44.00" height="1" fill="#efd892"/>
<rect x="176.00" y="236" width="44.00" height="4" fill="#f2d080"/>
<rect x="176.00" y="240" width="44.00" height="1" fill="#efab5d"/>
<rect x="176.00" y="241" width="44.00" height="1" fill="#dd813e"/>
<rect x="176.00" y="242" width="44.00" height="1" fill="#d87838"/>
<rect x="176.00" y="243" width="44.00" height="1" fill="#ea9a50"/>
<rect x="176.00" y="244" width="44.00" height="1" fill="#f2bc6c"/>
<rect x="176.00" y="245" width="44.00" height="1" fill="#ecdfa4"/>
<rect x="176.00" y="246" width="44.00" height="1" fill="#e8eebc"/>
<rect x="176.00" y="247" width="44.00" height="1" fill="#f2bc6c"/>
<rect x="176.00" y="248" width="44.00" height="1" fill="#eda256"/>
<rect x="176.00" y="249" width="44.00" height="1" fill="#f0b365"/>
<rect x="176.00" y="250" width="44.00" height="1" fill="#efd892"/>
<rect x="176.00" y="251" width="44.00" height="3" fill="#f2d080"/>
<rect x="176.00" y="254" width="44.00" height="1" fill="#efd892"/>
<rect x="176.00" y="255" width="44.00" height="2" fill="#e8eebc"/>
<rect x="176.00" y="257" width="44.00" height="1" fill="#efd892"/>
<rect x="176.00" y="258" width="44.00" height="3" fill="#efab5d"/>
<rect x="176.00" y="261" width="44.00" height="1" fill="#f0b365"/>
<rect x="176.00" y="262" width="44.00" height="1" fill="#e8eebc"/>
<rect x="176.00" y="263" width="44.00" height="1" fill="#d0eed6"/>
<rect x="176.00" y="264" width="44.00" height="1" fill="#a8e2e7"/>
<rect x="176.00" y="265" width="44.00" height="1" fill="#b2e8e4"/>
<rect x="176.00" y="266" width="44.00" height="1" fill="#d0eed6"/>
<rect x="176.00" y="267" width="44.00" height="1" fill="#e8eebc"/>
<rect x="176.00" y="268" width="44.00" height="1" fill="#c1ebdd"/>
<rect x="176.00" y="269" width="44.00" height="1" fill="#a8e2e7"/>
<rect x="176.00" y="270" width="44.00" height="1" fill="#9edcea"/>
<rect x="176.00" y="271" width="44.00" height="1" fill="#d0eed6"/>
<rect x="176.00" y="272" width="44.00" height="1" fill="#e8eebc"/>
<rect x="176.00" y="273" width="44.00" height="1" fill="#c1ebdd"/>
<rect x="176.00" y="274" width="44.00" height="1" fill="#60bcee"/>
<rect x="176.00" y="275" width="44.00" height="1" fill="#50a4e4"/>
<rect x="176.00" y="276" width="44.00" height="1" fill="#74c4ee"/>
<rect x="176.00" y="277" width="44.00" height="1" fill="#9edcea"/>
<rect x="176.00" y="278" width="44.00" height="1" fill="#8ed2ee"/>
<rect x="176.00" y="279" width="44.00" height="1" fill="#60bcee"/>
<rect x="176.00" y="280" width="44.00" height="1" fill="#4a96dc"/>
<rect x="176.00" y="281" width="44.00" height="1" fill="#74c4ee"/>
<rect x="176.00" y="282" width="44.00" height="2" fill="#9edcea"/>
<rect x="176.00" y="284" width="44.00" height="1" fill="#b2e8e4"/>
<rect x="176.00" y="285" width="44.00" height="1" fill="#d0eed6"/>
<rect x="176.00" y="286" width="44.00" height="1" fill="#dceec9"/>
<rect x="176.00" y="287" width="44.00" height="1" fill="#c1ebdd"/>
<rect x="176.00" y="288" width="44.00" height="1" fill="#b2e8e4"/>
<rect x="176.00" y="289" width="44.00" height="1" fill="#c1ebdd"/>
<rect x="176.00" y="290" width="44.00" height="1" fill="#8ed2ee"/>
<rect x="176.00" y="291" width="44.00" height="1" fill="#81cbee"/>
<rect x="176.00" y="292" width="44.00" height="1" fill="#8ed2ee"/>
<rect x="176.00" y="293" width="44.00" height="1" fill="#b2e8e4"/>
<rect x="176.00" y="294" width="44.00" height="1" fill="#dceec9"/>
<rect x="176.00" y="295" width="44.00" height="1" fill="#d0eed6"/>
<rect x="176.00" y="296" width="44.00" height="1" fill="#9edcea"/>
<rect x="176.00" y="297" width="44.00" height="1" fill="#8ed2ee"/>
<rect x="176.00" y="298" width="44.00" height="1" fill="#a8e2e7"/>
<rect x="176.00" y="299" width="44.00" height="1" fill="#74c4ee"/>
<rect x="176.00" y="300" width="44.00" height="1" fill="#8ed2ee"/>
<rect x="176.00" y="301" width="44.00" height="1" fill="#a8e2e7"/>
<rect x="176.00" y="302" width="44.00" height="2" fill="#9edcea"/>
<rect x="176.00" y="304" width="44.00" height="2" fill="#b2e8e4"/>
<rect x="176.00" y="306" width="44.00" height="1" fill="#d0eed6"/>
<rect x="176.00" y="307" width="44.00" height="1" fill="#ecdfa4"/>
<rect x="176.00" y="308" width="44.00" height="1" fill="#e8eebc"/>
<rect x="176.00" y="309" width="44.00" height="4" fill="#8ed2ee"/>
<rect x="176.00" y="313" width="44.00" height="1" fill="#9edcea"/>
<rect x="176.00" y="314" width="44.00" height="1" fill="#d0eed6"/>
<rect x="176.00" y="315" width="44.00" height="1" fill="#e8eebc"/>
<rect x="176.00" y="316" width="44.00" height="1" fill="#c1ebdd"/>
<rect x="176.00" y="317" width="44.00" height="1" fill="#74c4ee"/>
<rect x="176.00" y="318" width="44.00" height="1" fill="#60bcee"/>
<rect x="176.00" y="319" width="44.00" height="1" fill="#74c4ee"/>
<rect x="176.00" y="320" width="44.00" height="1" fill="#4a96dc"/>
<rect x="176.00" y="321" width="44.00" height="1" fill="#4488d4"/>
<rect x="176.00" y="322" width="44.00" height="1" fill="#50a4e4"/>
<rect x="176.00" y="323" width="44.00" height="1" fill="#60bcee"/>
<rect x="176.00" y="324" width="44.00" height="2" fill="#50a4e4"/>
<rect x="176.00" y="326" width="44.00" height="1" fill="#60bcee"/>
<rect x="176.00" y="327" width="44.00" height="1" fill="#b2e8e4"/>
<rect x="176.00" y="328" width="44.00" height="1" fill="#efd892"/>
<rect x="176.00" y="329" width="44.00" height="1" fill="#e8eebc"/>
<rect x="176.00" y="330" width="44.00" height="1" fill="#b2e8e4"/>
<rect x="176.00" y="331" width="44.00" height="1" fill="#9edcea"/>
<rect x="176.00" y="332" width="44.00" height="1" fill="#c1ebdd"/>
<rect x="176.00" y="333" width="44.00" height="1" fill="#b2e8e4"/>
<rect x="176.00" y="334" width="44.00" height="1" fill="#9edcea"/>
<rect x="176.00" y="335" width="44.00" height="1" fill="#60bcee"/>
<rect x="176.00" y="336" width="44.00" height="1" fill="#4a96dc"/>
<rect x="176.00" y="337" width="44.00" height="5" fill="#50a4e4"/>
<rect x="176.00" y="342" width="44.00" height="1" fill="#a8e2e7"/>
<rect x="176.00" y="343" width="44.00" height="1" fill="#9edcea"/>
<rect x="176.00" y="344" width="44.00" height="1" fill="#60bcee"/>
<rect x="176.00" y="345" width="44.00" height="1" fill="#4a96dc"/>
<rect x="176.00" y="346" width="44.00" height="1" fill="#58b4ee"/>
<rect x="176.00" y="347" width="44.00" height="1" fill="#50a4e4"/>
<rect x="176.00" y="348" width="44.00" height="1" fill="#60bcee"/>
<rect x="176.00" y="349" width="44.00" height="1" fill="#74c4ee"/>
<rect x="176.00" y="350" width="44.00" height="1" fill="#8ed2ee"/>
<rect x="176.00" y="351" width="44.00" height="1" fill="#c1ebdd"/>
<rect x="176.00" y="352" width="44.00" height="1" fill="#8ed2ee"/>
<rect x="176.00" y="353" width="44.00" height="1" fill="#4488d4"/>
<rect x="176.00" y="354" width="44.00" height="2" fill="#417fd0"/>
<rect x="176.00" y="356" width="44.00" height="1" fill="#3d77cc"/>
<rect x="176.00" y="357" width="44.00" height="1" fill="#417fd0"/>
<rect x="176.00" y="358" width="44.00" height="1" fill="#4488d4"/>
<rect x="176.00" y="359" width="44.00" height="1" fill="#60bcee"/>
<rect x="176.00" y="360" width="44.00" height="1" fill="#b2e8e4"/>
<rect x="176.00" y="361" width="44.00" height="1" fill="#74c4ee"/>
<rect x="176.00" y="362" width="44.00" height="1" fill="#4a96dc"/>
<rect x="176.00" y="363" width="44.00" height="1" fill="#50a4e4"/>
<rect x="176.00" y="364" width="44.00" height="1" fill="#60bcee"/>
<rect x="176.00" y="365" width="44.00" height="1" fill="#8ed2ee"/>
<rect x="176.00" y="366" width="44.00" height="3" fill="#74c4ee"/>
<rect x="176.00" y="369" width="44.00" height="1" fill="#b2e8e4"/>
<rect x="176.00" y="370" width="44.00" height="1" fill="#8ed2ee"/>
<rect x="176.00" y="371" width="44.00" height="1" fill="#60bcee"/>
<rect x="176.00" y="372" width="44.00" height="1" fill="#74c4ee"/>
<rect x="176.00" y="373" width="44.00" height="1" fill="#8ed2ee"/>
<rect x="176.00" y="374" width="44.00" height="1" fill="#60bcee"/>
<rect x="176.00" y="375" width="44.00" height="2" fill="#50a4e4"/>
<rect x="176.00" y="377" width="44.00" height="1" fill="#4a96dc"/>
<rect x="176.00" y="378" width="44.00" height="1" fill="#58b4ee"/>
<rect x="176.00" y="379" width="44.00" height="1" fill="#74c4ee"/>
<rect x="176.00" y="380" width="44.00" height="1" fill="#8ed2ee"/>
<rect x="176.00" y="381" width="44.00" height="1" fill="#74c4ee"/>
<rect x="176.00" y="382" width="44.00" height="1" fill="#8ed2ee"/>
<rect x="176.00" y="383" width="44.00" height="1" fill="#b2e8e4"/>
<rect x="176.00" y="384" width="44.00" height="1" fill="#74c4ee"/>
<rect x="176.00" y="385" width="44.00" height="1" fill="#50a4e4"/>
<rect x="176.00" y="386" width="44.00" height="1" fill="#60bcee"/>
<rect x="176.00" y="387" width="44.00" height="1" fill="#9edcea"/>
<rect x="176.00" y="388" width="44.00" height="1" fill="#efd892"/>
<rect x="176.00" y="389" width="44.00" height="1" fill="#ecdfa4"/>
<rect x="176.00" y="390" width="44.00" height="1" fill="#a8e2e7"/>
<rect x="176.00" y="391" width="44.00" height="1" fill="#8ed2ee"/>
<rect x="176.00" y="392" width="44.00" height="1" fill="#74c4ee"/>
<rect x="176.00" y="393" width="44.00" height="1" fill="#4488d4"/>
<rect x="176.00" y="394" width="44.00" height="1" fill="#4a96dc"/>
<rect x="176.00" y="396" width="44.00" height="1" fill="#58b4ee"/>
<rect x="176.00" y="397" width="44.00" height="1" fill="#4488d4"/>
<rect x="176.00" y="398" width="44.00" height="1" fill="#58b4ee"/>
<rect x="176.00" y="399" width="44.00" height="1" fill="#60bcee"/>
<rect x="176.00" y="400" width="44.00" height="1" fill="#f2bc6c"/>
<rect x="176.00" y="401" width="44.00" height="1" fill="#efab5d"/>
<rect x="176.00" y="402" width="44.00" height="1" fill="#f0b365"/>
<rect x="176.00" y="403" width="44.00" height="1" fill="#efd892"/>
<rect x="176.00" y="404" width="44.00" height="4" fill="#ecdfa4"/>
<rect x="176.00" y="408" width="44.00" height="1" fill="#e8eebc"/>
<rect x="176.00" y="409" width="44.00" height="1" fill="#dceec9"/>
<rect x="176.00" y="410" width="44.00" height="1" fill="#efd892"/>
<rect x="176.00" y="411" width="44.00" height="1" fill="#f2bc6c"/>
<rect x="176.00" y="412" width="44.00" height="1" fill="#ea9a50"/>
<rect x="176.00" y="413" width="44.00" height="1" fill="#e18944"/>
<rect x="176.00" y="414" width="44.00" height="1" fill="#dd813e"/>
<rect x="176.00" y="415" width="44.00" height="1" fill="#d87838"/>
<rect x="176.00" y="416" width="44.00" height="1" fill="#c6542b"/>
<rect x="176.00" y="417" width="44.00" height="1" fill="#cc5e2d"/>
<rect x="176.00" y="418" width="44.00" height="2" fill="#d87838"/>
<rect x="176.00" y="420" width="44.00" height="2" fill="#c6542b"/>
<rect x="176.00" y="422" width="44.00" height="1" fill="#e6924a"/>
<rect x="176.00" y="423" width="44.00" height="1" fill="#dd813e"/>
<rect x="176.00" y="424" width="44.00" height="1" fill="#e6924a"/>
<rect x="176.00" y="425" width="44.00" height="1" fill="#d87838"/>
<rect x="176.00" y="426" width="44.00" height="1" fill="#eda256"/>
<rect x="176.00" y="427" width="44.00" height="1" fill="#dd813e"/>
<rect x="176.00" y="428" width="44.00" height="2" fill="#c6542b"/>
<rect x="176.00" y="430" width="44.00" height="1" fill="#cc5e2d"/>
<rect x="176.00" y="431" width="44.00" height="1" fill="#c04a28"/>
<rect x="176.00" y="432" width="44.00" height="1" fill="#c6542b"/>
<rect x="176.00" y="433" width="44.00" height="1" fill="#c04a28"/>
<rect x="220.00" y="84" width="44.00" height="1" fill="#cc5e2d"/>
<rect x="220.00" y="85" width="44.00" height="1" fill="#d26830"/>
<rect x="220.00" y="86" width="44.00" height="1" fill="#c04a28"/>
<rect x="220.00" y="87" width="44.00" height="1" fill="#b13724"/>
<rect x="220.00" y="88" width="44.00" height="1" fill="#aa2e22"/>
<rect x="220.00" y="89" width="44.00" height="1" fill="#c04a28"/>
<rect x="220.00" y="90" width="44.00" height="1" fill="#d87838"/>
<rect x="220.00" y="91" width="44.00" height="1" fill="#e18944"/>
<rect x="220.00" y="92" width="44.00" height="1" fill="#dd813e"/>
<rect x="220.00" y="93" width="44.00" height="1" fill="#e6924a"/>
<rect x="220.00" y="94" width="44.00" height="1" fill="#ea9a50"/>
<rect x="220.00" y="95" width="44.00" height="1" fill="#eda256"/>
<rect x="220.00" y="96" width="44.00" height="1" fill="#ea9a50"/>
<rect x="220.00" y="97" width="44.00" height="1" fill="#dd813e"/>
<rect x="220.00" y="98" width="44.00" height="1" fill="#d87838"/>
<rect x="220.00" y="99" width="44.00" height="1" fill="#c04a28"/>
<rect x="220.00" y="100" width="44.00" height="2" fill="#9a1520"/>
<rect x="220.00" y="102" width="44.00" height="1" fill="#9f1d21"/>
<rect x="220.00" y="103" width="44.00" height="8" fill="#9a1520"/>
<rect x="220.00" y="111" width="44.00" height="1" fill="#aa2e22"/>
<rect x="220.00" y="112" width="44.00" height="1" fill="#c04a28"/>
<rect x="220.00" y="113" width="44.00" height="1" fill="#b13724"/>
<rect x="220.00" y="114" width="44.00" height="1" fill="#cc5e2d"/>
<rect x="220.00" y="115" width="44.00" height="1" fill="#c6542b"/>
<rect x="220.00" y="116" width="44.00" height="1" fill="#aa2e22"/>
<rect x="220.00" y="117" width="44.00" height="1" fill="#b13724"/>
<rect x="220.00" y="118" width="44.00" height="1" fill="#9f1d21"/>
<rect x="220.00" y="119" width="44.00" height="2" fill="#9a1520"/>
<rect x="220.00" y="121" width="44.00" height="1" fill="#a52621"/>
<rect x="220.00" y="122" width="44.00" height="6" fill="#9a1520"/>
<rect x="220.00" y="128" width="44.00" height="1" fill="#9f1d21"/>
<rect x="220.00" y="129" width="44.00" height="1" fill="#aa2e22"/>
<rect x="220.00" y="130" width="44.00" height="1" fill="#b13724"/>
<rect x="220.00" y="131" width="44.00" height="1" fill="#c04a28"/>
<rect x="220.00" y="132" width="44.00" height="2" fill="#c6542b"/>
<rect x="220.00" y="134" width="44.00" height="1" fill="#c04a28"/>
<rect x="220.00" y="135" width="44.00" height="1" fill="#c6542b"/>
<rect x="220.00" y="136" width="44.00" height="1" fill="#c04a28"/>
<rect x="220.00" y="137" width="44.00" height="1" fill="#aa2e22"/>
<rect x="220.00" y="138" width="44.00" height="2" fill="#9a1520"/>
<rect x="220.00" y="140" width="44.00" height="1" fill="#9f1d21"/>
<rect x="220.00" y="141" width="44.00" height="1" fill="#aa2e22"/>
<rect x="220.00" y="142" width="44.00" height="1" fill="#b13724"/>
<rect x="220.00" y="143" width="44.00" height="1" fill="#9f1d21"/>
<rect x="220.00" y="144" width="44.00" height="1" fill="#a52621"/>
<rect x="220.00" y="145" width="44.00" height="1" fill="#9a1520"/>
<rect x="220.00" y="146" width="44.00" height="1" fill="#aa2e22"/>
<rect x="220.00" y="147" width="44.00" height="1" fill="#b13724"/>
<rect x="220.00" y="148" width="44.00" height="1" fill="#aa2e22"/>
<rect x="220.00" y="149" width="44.00" height="9" fill="#9a1520"/>
<rect x="220.00" y="158" width="44.00" height="1" fill="#a52621"/>
<rect x="220.00" y="159" width="44.00" height="1" fill="#c04a28"/>
<rect x="220.00" y="160" width="44.00" height="1" fill="#9f1d21"/>
<rect x="220.00" y="161" width="44.00" height="2" fill="#9a1520"/>
<rect x="220.00" y="163" width="44.00" height="1" fill="#aa2e22"/>
<rect x="220.00" y="164" width="44.00" height="1" fill="#c04a28"/>
<rect x="220.00" y="165" width="44.00" height="1" fill="#b94126"/>
<rect x="220.00" y="166" width="44.00" height="1" fill="#cc5e2d"/>
<rect x="220.00" y="167" width="44.00" height="1" fill="#c6542b"/>
<rect x="220.00" y="168" width="44.00" height="1" fill="#dd813e"/>
<rect x="220.00" y="169" width="44.00" height="2" fill="#e6924a"/>
<rect x="220.00" y="171" width="44.00" height="1" fill="#cc5e2d"/>
<rect x="220.00" y="172" width="44.00" height="1" fill="#d87838"/>
<rect x="220.00" y="173" width="44.00" height="1" fill="#9f1d21"/>
<rect x="220.00" y="174" width="44.00" height="6" fill="#9a1520"/>
<rect x="220.00" y="180" width="44.00" height="1" fill="#aa2e22"/>
<rect x="220.00" y="181" width="44.00" height="1" fill="#dd813e"/>
<rect x="220.00" y="182" width="44.00" height="1" fill="#efab5d"/>
<rect x="220.00" y="183" width="44.00" height="1" fill="#f0b365"/>
<rect x="220.00" y="184" width="44.00" height="1" fill="#efab5d"/>
<rect x="220.00" y="185" width="44.00" height="1" fill="#dd813e"/>
<rect x="220.00" y="186" width="44.00" height="1" fill="#b13724"/>
<rect x="220.00" y="187" width="44.00" height="1" fill="#cc5e2d"/>
<rect x="220.00" y="188" width="44.00" height="1" fill="#d87838"/>
<rect x="220.00" y="189" width="44.00" height="1" fill="#c04a28"/>
<rect x="220.00" y="190" width="44.00" height="2" fill="#9a1520"/>
<rect x="220.00" y="192" width="44.00" height="1" fill="#9f1d21"/>
<rect x="220.00" y="193" width="44.00" height="1" fill="#b13724"/>
<rect x="220.00" y="194" width="44.00" height="2" fill="#c6542b"/>
<rect x="220.00" y="196" width="44.00" height="1" fill="#d26830"/>
<rect x="220.00" y="197" width="44.00" height="1" fill="#e6924a"/>
<rect x="220.00" y="198" width="44.00" height="1" fill="#dd813e"/>
<rect x="220.00" y="199" width="44.00" height="1" fill="#c6542b"/>
<rect x="220.00" y="200" width="44.00" height="1" fill="#b94126"/>
<rect x="220.00" y="201" width="44.00" height="1" fill="#d87838"/>
<rect x="220.00" y="202" width="44.00" height="3" fill="#ea9a50"/>
<rect x="220.00" y="205" width="44.00" height="1" fill="#d87838"/>
<rect x="220.00" y="206" width="44.00" height="1" fill="#aa2e22"/>
<rect x="220.00" y="207" width="44.00" height="1" fill="#9a1520"/>
<rect x="220.00" y="208" width="44.00" height="1" fill="#9f1d21"/>
<rect x="220.00" y="209" width="44.00" height="1" fill="#c6542b"/>
<rect x="220.00" y="210" width="44.00" height="2" fill="#d87838"/>
<rect x="220.00" y="212" width="44.00" height="1" fill="#9f1d21"/>
<rect x="220.00" y="213" width="44.00" height="1" fill="#c04a28"/>
<rect x="220.00" y="214" width="44.00" height="1" fill="#ea9a50"/>
<rect x="220.00" y="215" width="44.00" height="1" fill="#e18944"/>
<rect x="220.00" y="216" width="44.00" height="1" fill="#c6542b"/>
<rect x="220.00" y="217" width="44.00" height="1" fill="#c04a28"/>
<rect x="220.00" y="218" width="44.00" height="1" fill="#eda256"/>
<rect x="220.00" y="219" width="44.00" height="1" fill="#e8eebc"/>
<rect x="220.00" y="220" width="44.00" height="1" fill="#c1ebdd"/>
<rect x="220.00" y="221" width="44.00" height="1" fill="#b2e8e4"/>
<rect x="220.00" y="222" width="44.00" height="1" fill="#c1ebdd"/>
<rect x="220.00" y="223" width="44.00" height="1" fill="#e8eebc"/>
<rect x="220.00" y="224" width="44.00" height="1" fill="#efab5d"/>
<rect x="220.00" y="225" width="44.00" height="2" fill="#e6924a"/>
<rect x="220.00" y="227" width="44.00" height="1" fill="#d87838"/>
<rect x="220.00" y="228" width="44.00" height="1" fill="#ea9a50"/>
<rect x="220.00" y="229" width="44.00" height="1" fill="#f0b365"/>
<rect x="220.00" y="230" width="44.00" height="1" fill="#f2bc6c"/>
<rect x="220.00" y="231" width="44.00" height="1" fill="#f0b365"/>
<rect x="220.00" y="232" width="44.00" height="1" fill="#efd892"/>
<rect x="220.00" y="233" width="44.00" height="1" fill="#f0b365"/>
<rect x="220.00" y="234" width="44.00" height="1" fill="#eda256"/>
<rect x="220.00" y="235" width="44.00" height="1" fill="#ea9a50"/>
<rect x="220.00" y="236" width="44.00" height="1" fill="#f0b365"/>
<rect x="220.00" y="237" width="44.00" height="1" fill="#efd892"/>
<rect x="220.00" y="238" width="44.00" height="2" fill="#e8eebc"/>
<rect x="220.00" y="240" width="44.00" height="1" fill="#f2d080"/>
<rect x="220.00" y="241" width="44.00" height="3" fill="#efd892"/>
<rect x="220.00" y="244" width="44.00" height="1" fill="#f2d080"/>
<rect x="220.00" y="245" width="44.00" height="1" fill="#f2c676"/>
<rect x="220.00" y="246" width="44.00" height="1" fill="#e8eebc"/>
<rect x="220.00" y="247" width="44.00" height="1" fill="#b2e8e4"/>
<rect x="220.00" y="248" width="44.00" height="1" fill="#9edcea"/>
<rect x="220.00" y="249" width="44.00" height="1" fill="#c1ebdd"/>
<rect x="220.00" y="250" width="44.00" height="1" fill="#f2c676"/>
<rect x="220.00" y="251" width="44.00" height="1" fill="#ea9a50"/>
<rect x="220.00" y="252" width="44.00" height="2" fill="#c6542b"/>
<rect x="220.00" y="254" width="44.00" height="1" fill="#e6924a"/>
<rect x="220.00" y="255" width="44.00" height="1" fill="#efab5d"/>
<rect x="220.00" y="256" width="44.00" height="1" fill="#f0b365"/>
<rect x="220.00" y="257" width="44.00" height="1" fill="#efab5d"/>
<rect x="220.00" y="258" width="44.00" height="1" fill="#f0b365"/>
<rect x="220.00" y="259" width="44.00" height="1" fill="#f2d080"/>
<rect x="220.00" y="260" width="44.00" height="1" fill="#e8eebc"/>
<rect x="220.00" y="261" width="44.00" height="1" fill="#d0eed6"/>
<rect x="220.00" y="262" width="44.00" height="1" fill="#efd892"/>
<rect x="220.00" y="263" width="44.00" height="1" fill="#ea9a50"/>
<rect x="220.00" y="264" width="44.00" height="1" fill="#e6924a"/>
<rect x="220.00" y="265" width="44.00" height="1" fill="#dd813e"/>
<rect x="220.00" y="266" width="44.00" height="1" fill="#e18944"/>
<rect x="220.00" y="267" width="44.00" height="1" fill="#dd813e"/>
<rect x="220.00" y="268" width="44.00" height="1" fill="#eda256"/>
<rect x="220.00" y="269" width="44.00" height="1" fill="#efd892"/>
<rect x="220.00" y="270" width="44.00" height="2" fill="#e8eebc"/>
<rect x="220.00" y="272" width="44.00" height="1" fill="#ecdfa4"/>
<rect x="220.00" y="273" width="44.00" height="2" fill="#f2bc6c"/>
<rect x="220.00" y="275" width="44.00" height="1" fill="#f0b365"/>
<rect x="220.00" y="276" width="44.00" height="1" fill="#efd892"/>
<rect x="220.00" y="277" width="44.00" height="1" fill="#ecdfa4"/>
<rect x="220.00" y="278" width="44.00" height="1" fill="#e8eebc"/>
<rect x="220.00" y="279" width="44.00" height="1" fill="#b2e8e4"/>
<rect x="220.00" y="280" width="44.00" height="1" fill="#d0eed6"/>
<rect x="220.00" y="281" width="44.00" height="1" fill="#e8eebc"/>
<rect x="220.00" y="282" width="44.00" height="1" fill="#a8e2e7"/>
<rect x="220.00" y="283" width="44.00" height="1" fill="#9edcea"/>
<rect x="220.00" y="284" width="44.00" height="1" fill="#8ed2ee"/>
<rect x="220.00" y="285" width="44.00" height="1" fill="#60bcee"/>
<rect x="220.00" y="286" width="44.00" height="1" fill="#d0eed6"/>
<rect x="220.00" y="287" width="44.00" height="1" fill="#efd892"/>
<rect x="220.00" y="288" width="44.00" height="2" fill="#e8eebc"/>
<rect x="220.00" y="290" width="44.00" height="1" fill="#a8e2e7"/>
<rect x="220.00" y="291" width="44.00" height="1" fill="#60bcee"/>
<rect x="220.00" y="292" width="44.00" height="1" fill="#50a4e4"/>
<rect x="220.00" y="293" width="44.00" height="1" fill="#4a96dc"/>
<rect x="220.00" y="294" width="44.00" height="1" fill="#4488d4"/>
<rect x="220.00" y="295" width="44.00" height="1" fill="#58b4ee"/>
<rect x="220.00" y="296" width="44.00" height="1" fill="#9edcea"/>
<rect x="220.00" y="297" width="44.00" height="1" fill="#b2e8e4"/>
<rect x="220.00" y="298" width="44.00" height="1" fill="#a8e2e7"/>
<rect x="220.00" y="299" width="44.00" height="1" fill="#b2e8e4"/>
<rect x="220.00" y="300" width="44.00" height="1" fill="#9edcea"/>
<rect x="220.00" y="301" width="44.00" height="1" fill="#b2e8e4"/>
<rect x="220.00" y="302" width="44.00" height="1" fill="#a8e2e7"/>
<rect x="220.00" y="303" width="44.00" height="1" fill="#dceec9"/>
<rect x="220.00" y="304" width="44.00" height="1" fill="#ecdfa4"/>
<rect x="220.00" y="305" width="44.00" height="1" fill="#e8eebc"/>
<rect x="220.00" y="306" width="44.00" height="1" fill="#d0eed6"/>
<rect x="220.00" y="307" width="44.00" height="1" fill="#b2e8e4"/>
<rect x="220.00" y="308" width="44.00" height="1" fill="#9edcea"/>
<rect x="220.00" y="309" width="44.00" height="1" fill="#8ed2ee"/>
<rect x="220.00" y="310" width="44.00" height="1" fill="#74c4ee"/>
<rect x="220.00" y="311" width="44.00" height="2" fill="#60bcee"/>
<rect x="220.00" y="313" width="44.00" height="1" fill="#4a96dc"/>
<rect x="220.00" y="314" width="44.00" height="1" fill="#60bcee"/>
<rect x="220.00" y="315" width="44.00" height="2" fill="#74c4ee"/>
<rect x="220.00" y="317" width="44.00" height="2" fill="#60bcee"/>
<rect x="220.00" y="319" width="44.00" height="1" fill="#74c4ee"/>
<rect x="220.00" y="320" width="44.00" height="1" fill="#81cbee"/>
<rect x="220.00" y="321" width="44.00" height="1" fill="#74c4ee"/>
<rect x="220.00" y="322" width="44.00" height="3" fill="#60bcee"/>
<rect x="220.00" y="325" width="44.00" height="1" fill="#74c4ee"/>
<rect x="220.00" y="326" width="44.00" height="1" fill="#b2e8e4"/>
<rect x="220.00" y="327" width="44.00" height="1" fill="#9edcea"/>
<rect x="220.00" y="328" width="44.00" height="1" fill="#74c4ee"/>
<rect x="220.00" y="329" width="44.00" height="1" fill="#81cbee"/>
<rect x="220.00" y="330" width="44.00" height="1" fill="#8ed2ee"/>
<rect x="220.00" y="331" width="44.00" height="1" fill="#a8e2e7"/>
<rect x="220.00" y="332" width="44.00" height="1" fill="#74c4ee"/>
<rect x="220.00" y="333" width="44.00" height="1" fill="#58b4ee"/>
<rect x="220.00" y="334" width="44.00" height="1" fill="#74c4ee"/>
<rect x="220.00" y="335" width="44.00" height="1" fill="#9edcea"/>
<rect x="220.00" y="336" width="44.00" height="2" fill="#60bcee"/>
<rect x="220.00" y="338" width="44.00" height="2" fill="#74c4ee"/>
<rect x="220.00" y="340" width="44.00" height="1" fill="#8ed2ee"/>
<rect x="220.00" y="341" width="44.00" height="1" fill="#d0eed6"/>
<rect x="220.00" y="342" width="44.00" height="1" fill="#c1ebdd"/>
<rect x="220.00" y="343" width="44.00" height="1" fill="#81cbee"/>
<rect x="220.00" y="344" width="44.00" height="1" fill="#4488d4"/>
<rect x="220.00" y="345" width="44.00" height="1" fill="#417fd0"/>
<rect x="220.00" y="346" width="44.00" height="1" fill="#4a96dc"/>
<rect x="220.00" y="347" width="44.00" height="1" fill="#60bcee"/>
<rect x="220.00" y="348" width="44.00" height="1" fill="#4a96dc"/>
<rect x="220.00" y="349" width="44.00" height="1" fill="#4488d4"/>
<rect x="220.00" y="350" width="44.00" height="1" fill="#50a4e4"/>
<rect x="220.00" y="351" width="44.00" height="1" fill="#74c4ee"/>
<rect x="220.00" y="352" width="44.00" height="1" fill="#8ed2ee"/>
<rect x="220.00" y="353" width="44.00" height="1" fill="#c1ebdd"/>
<rect x="220.00" y="354" width="44.00" height="1" fill="#a8e2e7"/>
<rect x="220.00" y="355" width="44.00" height="1" fill="#50a4e4"/>
<rect x="220.00" y="356" width="44.00" height="1" fill="#4488d4"/>
<rect x="220.00" y="357" width="44.00" height="1" fill="#3d77cc"/>
<rect x="220.00" y="358" width="44.00" height="1" fill="#3458b0"/>
<rect x="220.00" y="359" width="44.00" height="1" fill="#3a6ec8"/>
<rect x="220.00" y="360" width="44.00" height="1" fill="#417fd0"/>
<rect x="220.00" y="361" width="44.00" height="1" fill="#58b4ee"/>
<rect x="220.00" y="364" width="44.00" height="2" fill="#f2bc6c"/>
<rect x="220.00" y="366" width="44.00" height="1" fill="#ecdfa4"/>
<rect x="220.00" y="367" width="44.00" height="3" fill="#efab5d"/>
<rect x="220.00" y="370" width="44.00" height="1" fill="#d0eed6"/>
<rect x="220.00" y="371" width="44.00" height="2" fill="#b2e8e4"/>
<rect x="220.00" y="373" width="44.00" height="1" fill="#a8e2e7"/>
<rect x="220.00" y="374" width="44.00" height="1" fill="#b2e8e4"/>
<rect x="220.00" y="375" width="44.00" height="1" fill="#efd892"/>
<rect x="220.00" y="376" width="44.00" height="1" fill="#f0b365"/>
<rect x="220.00" y="377" width="44.00" height="1" fill="#e8eebc"/>
<rect x="220.00" y="378" width="44.00" height="3" fill="#b2e8e4"/>
<rect x="220.00" y="381" width="44.00" height="1" fill="#9edcea"/>
<rect x="220.00" y="382" width="44.00" height="1" fill="#c1ebdd"/>
<rect x="220.00" y="383" width="44.00" height="1" fill="#b2e8e4"/>
<rect x="220.00" y="384" width="44.00" height="1" fill="#dceec9"/>
<rect x="220.00" y="385" width="44.00" height="1" fill="#b2e8e4"/>
<rect x="220.00" y="386" width="44.00" height="1" fill="#efd892"/>
<rect x="220.00" y="387" width="44.00" height="1" fill="#f0b365"/>
<rect x="220.00" y="388" width="44.00" height="1" fill="#efd892"/>
<rect x="220.00" y="389" width="44.00" height="1" fill="#dceec9"/>
<rect x="220.00" y="390" width="44.00" height="1" fill="#e8eebc"/>
<rect x="220.00" y="391" width="44.00" height="1" fill="#d0eed6"/>
<rect x="220.00" y="392" width="44.00" height="2" fill="#b2e8e4"/>
<rect x="220.00" y="394" width="44.00" height="1" fill="#dceec9"/>
<rect x="220.00" y="395" width="44.00" height="1" fill="#e8eebc"/>
<rect x="220.00" y="396" width="44.00" height="2" fill="#b2e8e4"/>
<rect x="220.00" y="398" width="44.00" height="1" fill="#d0eed6"/>
<rect x="220.00" y="399" width="44.00" height="1" fill="#e8eebc"/>
<rect x="220.00" y="400" width="44.00" height="1" fill="#efd892"/>
<rect x="220.00" y="401" width="44.00" height="1" fill="#f2bc6c"/>
<rect x="220.00" y="402" width="44.00" height="1" fill="#f0b365"/>
<rect x="220.00" y="403" width="44.00" height="1" fill="#f2bc6c"/>
<rect x="220.00" y="404" width="44.00" height="2" fill="#efd892"/>
<rect x="220.00" y="406" width="44.00" height="1" fill="#f2bc6c"/>
<rect x="220.00" y="407" width="44.00" height="1" fill="#f0b365"/>
<rect x="220.00" y="408" width="44.00" height="1" fill="#f2bc6c"/>
<rect x="220.00" y="409" width="44.00" height="1" fill="#efd892"/>
<rect x="220.00" y="410" width="44.00" height="1" fill="#e8eebc"/>
<rect x="220.00" y="411" width="44.00" height="1" fill="#ecdfa4"/>
<rect x="220.00" y="412" width="44.00" height="1" fill="#f2bc6c"/>
<rect x="220.00" y="413" width="44.00" height="1" fill="#f2c676"/>
<rect x="220.00" y="414" width="44.00" height="1" fill="#f2bc6c"/>
<rect x="220.00" y="415" width="44.00" height="1" fill="#ea9a50"/>
<rect x="220.00" y="416" width="44.00" height="1" fill="#efab5d"/>
<rect x="220.00" y="417" width="44.00" height="1" fill="#d0eed6"/>
<rect x="220.00" y="418" width="44.00" height="1" fill="#b2e8e4"/>
<rect x="220.00" y="419" width="44.00" height="2" fill="#f0b365"/>
<rect x="220.00" y="421" width="44.00" height="1" fill="#f2bc6c"/>
<rect x="220.00" y="422" width="44.00" height="2" fill="#e8eebc"/>
<rect x="220.00" y="424" width="44.00" height="1" fill="#f2c676"/>
<rect x="220.00" y="425" width="44.00" height="1" fill="#f2bc6c"/>
<rect x="220.00" y="426" width="44.00" height="2" fill="#efd892"/>
<rect x="220.00" y="428" width="44.00" height="1" fill="#f0b365"/>
<rect x="220.00" y="429" width="44.00" height="1" fill="#ea9a50"/>
<rect x="220.00" y="430" width="44.00" height="2" fill="#dd813e"/>
<rect x="220.00" y="432" width="44.00" height="2" fill="#e18944"/>
<rect x="264.00" y="84" width="43.00" height="1" fill="#dd813e"/>
<rect x="264.00" y="85" width="43.00" height="2" fill="#d87838"/>
<rect x="264.00" y="87" width="43.00" height="1" fill="#dd813e"/>
<rect x="264.00" y="88" width="43.00" height="2" fill="#e6924a"/>
<rect x="264.00" y="90" width="43.00" height="2" fill="#ea9a50"/>
<rect x="264.00" y="92" width="43.00" height="1" fill="#e6924a"/>
<rect x="264.00" y="93" width="43.00" height="1" fill="#d87838"/>
<rect x="264.00" y="94" width="43.00" height="1" fill="#c6542b"/>
<rect x="264.00" y="95" width="43.00" height="1" fill="#cc5e2d"/>
<rect x="264.00" y="96" width="43.00" height="1" fill="#d26830"/>
<rect x="264.00" y="97" width="43.00" height="1" fill="#c04a28"/>
<rect x="264.00" y="98" width="43.00" height="1" fill="#b94126"/>
<rect x="264.00" y="99" width="43.00" height="1" fill="#c04a28"/>
<rect x="264.00" y="100" width="43.00" height="1" fill="#cc5e2d"/>
<rect x="264.00" y="101" width="43.00" height="1" fill="#b94126"/>
<rect x="264.00" y="102" width="43.00" height="1" fill="#c04a28"/>
<rect x="264.00" y="103" width="43.00" height="1" fill="#b13724"/>
<rect x="264.00" y="104" width="43.00" height="1" fill="#c04a28"/>
<rect x="264.00" y="105" width="43.00" height="1" fill="#cc5e2d"/>
<rect x="264.00" y="106" width="43.00" height="1" fill="#d26830"/>
<rect x="264.00" y="107" width="43.00" height="1" fill="#c6542b"/>
<rect x="264.00" y="108" width="43.00" height="3" fill="#e6924a"/>
<rect x="264.00" y="111" width="43.00" height="1" fill="#c04a28"/>
<rect x="264.00" y="112" width="43.00" height="1" fill="#b13724"/>
<rect x="264.00" y="113" width="43.00" height="1" fill="#c04a28"/>
<rect x="264.00" y="114" width="43.00" height="2" fill="#b13724"/>
<rect x="264.00" y="116" width="43.00" height="1" fill="#c04a28"/>
<rect x="264.00" y="117" width="43.00" height="1" fill="#b13724"/>
<rect x="264.00" y="118" width="43.00" height="1" fill="#a52621"/>
<rect x="264.00" y="119" width="43.00" height="1" fill="#9a1520"/>
<rect x="264.00" y="120" width="43.00" height="1" fill="#b13724"/>
<rect x="264.00" y="121" width="43.00" height="1" fill="#c6542b"/>
<rect x="264.00" y="122" width="43.00" height="1" fill="#b13724"/>
<rect x="264.00" y="123" width="43.00" height="1" fill="#a52621"/>
<rect x="264.00" y="124" width="43.00" height="1" fill="#9f1d21"/>
<rect x="264.00" y="125" width="43.00" height="1" fill="#a52621"/>
<rect x="264.00" y="126" width="43.00" height="1" fill="#b13724"/>
<rect x="264.00" y="127" width="43.00" height="3" fill="#9a1520"/>
<rect x="264.00" y="130" width="43.00" height="1" fill="#9f1d21"/>
<rect x="264.00" y="131" width="43.00" height="1" fill="#c04a28"/>
<rect x="264.00" y="132" width="43.00" height="1" fill="#cc5e2d"/>
<rect x="264.00" y="133" width="43.00" height="1" fill="#c04a28"/>
<rect x="264.00" y="134" width="43.00" height="3" fill="#9a1520"/>
<rect x="264.00" y="137" width="43.00" height="1" fill="#aa2e22"/>
<rect x="264.00" y="138" width="43.00" height="1" fill="#cc5e2d"/>
<rect x="264.00" y="139" width="43.00" height="1" fill="#d26830"/>
<rect x="264.00" y="140" width="43.00" height="1" fill="#c6542b"/>
<rect x="264.00" y="141" width="43.00" height="1" fill="#9f1d21"/>
<rect x="264.00" y="142" width="43.00" height="3" fill="#9a1520"/>
<rect x="264.00" y="145" width="43.00" height="1" fill="#aa2e22"/>
<rect x="264.00" y="146" width="43.00" height="1" fill="#a52621"/>
<rect x="264.00" y="147" width="43.00" height="6" fill="#9a1520"/>
<rect x="264.00" y="153" width="43.00" height="1" fill="#a52621"/>
<rect x="264.00" y="154" width="43.00" height="9" fill="#9a1520"/>
<rect x="264.00" y="163" width="43.00" height="1" fill="#c6542b"/>
<rect x="264.00" y="164" width="43.00" height="2" fill="#d87838"/>
<rect x="264.00" y="166" width="43.00" height="1" fill="#cc5e2d"/>
<rect x="264.00" y="167" width="43.00" height="1" fill="#aa2e22"/>
<rect x="264.00" y="168" width="43.00" height="3" fill="#9a1520"/>
<rect x="264.00" y="171" width="43.00" height="1" fill="#9f1d21"/>
<rect x="264.00" y="172" width="43.00" height="1" fill="#aa2e22"/>
<rect x="264.00" y="173" width="43.00" height="1" fill="#d87838"/>
<rect x="264.00" y="174" width="43.00" height="2" fill="#e6924a"/>
<rect x="264.00" y="176" width="43.00" height="4" fill="#ea9a50"/>
<rect x="264.00" y="180" width="43.00" height="1" fill="#dd813e"/>
<rect x="264.00" y="181" width="43.00" height="1" fill="#efab5d"/>
<rect x="264.00" y="182" width="43.00" height="1" fill="#f0b365"/>
<rect x="264.00" y="183" width="43.00" height="1" fill="#d87838"/>
<rect x="264.00" y="184" width="43.00" height="1" fill="#b13724"/>
<rect x="264.00" y="185" width="43.00" height="2" fill="#c6542b"/>
<rect x="264.00" y="187" width="43.00" height="1" fill="#cc5e2d"/>
<rect x="264.00" y="188" width="43.00" height="1" fill="#dd813e"/>
<rect x="264.00" y="189" width="43.00" height="1" fill="#d87838"/>
<rect x="264.00" y="190" width="43.00" height="1" fill="#e6924a"/>
<rect x="264.00" y="191" width="43.00" height="1" fill="#ea9a50"/>
<rect x="264.00" y="192" width="43.00" height="1" fill="#dd813e"/>
<rect x="264.00" y="193" width="43.00" height="1" fill="#e6924a"/>
<rect x="264.00" y="194" width="43.00" height="1" fill="#ea9a50"/>
<rect x="264.00" y="195" width="43.00" height="1" fill="#d87838"/>
<rect x="264.00" y="196" width="43.00" height="1" fill="#b13724"/>
<rect x="264.00" y="197" width="43.00" height="1" fill="#9f1d21"/>
<rect x="264.00" y="198" width="43.00" height="1" fill="#aa2e22"/>
<rect x="264.00" y="199" width="43.00" height="1" fill="#d87838"/>
<rect x="264.00" y="200" width="43.00" height="3" fill="#ea9a50"/>
<rect x="264.00" y="203" width="43.00" height="4" fill="#eda256"/>
<rect x="264.00" y="207" width="43.00" height="2" fill="#ea9a50"/>
<rect x="264.00" y="209" width="43.00" height="1" fill="#d87838"/>
<rect x="264.00" y="210" width="43.00" height="1" fill="#c6542b"/>
<rect x="264.00" y="211" width="43.00" height="1" fill="#dd813e"/>
<rect x="264.00" y="212" width="43.00" height="1" fill="#e6924a"/>
<rect x="264.00" y="213" width="43.00" height="2" fill="#dd813e"/>
<rect x="264.00" y="215" width="43.00" height="1" fill="#d87838"/>
<rect x="264.00" y="216" width="43.00" height="1" fill="#c04a28"/>
<rect x="264.00" y="217" width="43.00" height="1" fill="#b13724"/>
<rect x="264.00" y="218" width="43.00" height="1" fill="#c04a28"/>
<rect x="264.00" y="219" width="43.00" height="1" fill="#f0b365"/>
<rect x="264.00" y="220" width="43.00" height="4" fill="#f2d080"/>
<rect x="264.00" y="224" width="43.00" height="1" fill="#efd892"/>
<rect x="264.00" y="225" width="43.00" height="2" fill="#e8eebc"/>
<rect x="264.00" y="227" width="43.00" height="1" fill="#d0eed6"/>
<rect x="264.00" y="228" width="43.00" height="1" fill="#9edcea"/>
<rect x="264.00" y="229" width="43.00" height="1" fill="#8ed2ee"/>
<rect x="264.00" y="230" width="43.00" height="1" fill="#d0eed6"/>
<rect x="264.00" y="231" width="43.00" height="1" fill="#f0b365"/>
<rect x="264.00" y="232" width="43.00" height="1" fill="#c04a28"/>
<rect x="264.00" y="233" width="43.00" height="1" fill="#b13724"/>
<rect x="264.00" y="234" width="43.00" height="1" fill="#c6542b"/>
<rect x="264.00" y="235" width="43.00" height="1" fill="#d87838"/>
<rect x="264.00" y="236" width="43.00" height="1" fill="#ea9a50"/>
<rect x="264.00" y="237" width="43.00" height="1" fill="#e6924a"/>
<rect x="264.00" y="238" width="43.00" height="1" fill="#dd813e"/>
<rect x="264.00" y="239" width="43.00" height="1" fill="#eda256"/>
<rect x="264.00" y="240" width="43.00" height="1" fill="#e8eebc"/>
<rect x="264.00" y="241" width="43.00" height="3" fill="#b2e8e4"/>
<rect x="264.00" y="244" width="43.00" height="1" fill="#dceec9"/>
<rect x="264.00" y="245" width="43.00" height="1" fill="#efd892"/>
<rect x="264.00" y="246" width="43.00" height="2" fill="#d0eed6"/>
<rect x="264.00" y="248" width="43.00" height="1" fill="#e8eebc"/>
<rect x="264.00" y="249" width="43.00" height="1" fill="#efab5d"/>
<rect x="264.00" y="250" width="43.00" height="1" fill="#ea9a50"/>
<rect x="264.00" y="251" width="43.00" height="1" fill="#f0b365"/>
<rect x="264.00" y="252" width="43.00" height="3" fill="#e8eebc"/>
<rect x="264.00" y="255" width="43.00" height="1" fill="#dceec9"/>
<rect x="264.00" y="256" width="43.00" height="2" fill="#8ed2ee"/>
<rect x="264.00" y="258" width="43.00" height="2" fill="#b2e8e4"/>
<rect x="264.00" y="260" width="43.00" height="1" fill="#9edcea"/>
<rect x="264.00" y="261" width="43.00" height="1" fill="#60bcee"/>
<rect x="264.00" y="262" width="43.00" height="3" fill="#8ed2ee"/>
<rect x="264.00" y="265" width="43.00" height="1" fill="#81cbee"/>
<rect x="264.00" y="266" width="43.00" height="1" fill="#9edcea"/>
<rect x="264.00" y="267" width="43.00" height="1" fill="#b2e8e4"/>
<rect x="264.00" y="268" width="43.00" height="1" fill="#9edcea"/>
<rect x="264.00" y="269" width="43.00" height="1" fill="#dceec9"/>
<rect x="264.00" y="270" width="43.00" height="4" fill="#e8eebc"/>
<rect x="264.00" y="274" width="43.00" height="1" fill="#d0eed6"/>
<rect x="264.00" y="275" width="43.00" height="1" fill="#8ed2ee"/>
<rect x="264.00" y="276" width="43.00" height="1" fill="#efd892"/>
<rect x="264.00" y="277" width="43.00" height="1" fill="#f2c676"/>
<rect x="264.00" y="278" width="43.00" height="1" fill="#e8eebc"/>
<rect x="264.00" y="279" width="43.00" height="1" fill="#f2d080"/>
<rect x="264.00" y="280" width="43.00" height="1" fill="#a8e2e7"/>
<rect x="264.00" y="281" width="43.00" height="1" fill="#60bcee"/>
<rect x="264.00" y="282" width="43.00" height="1" fill="#50a4e4"/>
<rect x="264.00" y="283" width="43.00" height="1" fill="#60bcee"/>
<rect x="264.00" y="284" width="43.00" height="1" fill="#58b4ee"/>
<rect x="264.00" y="285" width="43.00" height="1" fill="#4a96dc"/>
<rect x="264.00" y="286" width="43.00" height="1" fill="#8ed2ee"/>
<rect x="264.00" y="287" width="43.00" height="1" fill="#50a4e4"/>
<rect x="264.00" y="288" width="43.00" height="1" fill="#4a96dc"/>
<rect x="264.00" y="289" width="43.00" height="1" fill="#50a4e4"/>
<rect x="264.00" y="290" width="43.00" height="1" fill="#60bcee"/>
<rect x="264.00" y="291" width="43.00" height="1" fill="#4a96dc"/>
<rect x="264.00" y="292" width="43.00" height="1" fill="#417fd0"/>
<rect x="264.00" y="293" width="43.00" height="1" fill="#4488d4"/>
<rect x="264.00" y="294" width="43.00" height="1" fill="#417fd0"/>
<rect x="264.00" y="295" width="43.00" height="1" fill="#4a96dc"/>
<rect x="264.00" y="296" width="43.00" height="1" fill="#8ed2ee"/>
<rect x="264.00" y="297" width="43.00" height="1" fill="#c1ebdd"/>
<rect x="264.00" y="298" width="43.00" height="1" fill="#8ed2ee"/>
<rect x="264.00" y="299" width="43.00" height="1" fill="#74c4ee"/>
<rect x="264.00" y="300" width="43.00" height="1" fill="#50a4e4"/>
<rect x="264.00" y="301" width="43.00" height="1" fill="#4a96dc"/>
<rect x="264.00" y="302" width="43.00" height="2" fill="#50a4e4"/>
<rect x="264.00" y="304" width="43.00" height="1" fill="#9edcea"/>
<rect x="264.00" y="305" width="43.00" height="1" fill="#8ed2ee"/>
<rect x="264.00" y="306" width="43.00" height="1" fill="#60bcee"/>
<rect x="264.00" y="307" width="43.00" height="3" fill="#8ed2ee"/>
<rect x="264.00" y="310" width="43.00" height="1" fill="#9edcea"/>
<rect x="264.00" y="311" width="43.00" height="1" fill="#60bcee"/>
<rect x="264.00" y="312" width="43.00" height="1" fill="#9edcea"/>
<rect x="264.00" y="313" width="43.00" height="1" fill="#74c4ee"/>
<rect x="264.00" y="314" width="43.00" height="1" fill="#4a96dc"/>
<rect x="264.00" y="315" width="43.00" height="1" fill="#4488d4"/>
<rect x="264.00" y="316" width="43.00" height="1" fill="#417fd0"/>
<rect x="264.00" y="317" width="43.00" height="1" fill="#4488d4"/>
<rect x="264.00" y="318" width="43.00" height="1" fill="#4a96dc"/>
<rect x="264.00" y="319" width="43.00" height="1" fill="#60bcee"/>
<rect x="264.00" y="320" width="43.00" height="1" fill="#74c4ee"/>
<rect x="264.00" y="321" width="43.00" height="1" fill="#60bcee"/>
<rect x="264.00" y="322" width="43.00" height="1" fill="#58b4ee"/>
<rect x="264.00" y="323" width="43.00" height="1" fill="#4a96dc"/>
<rect x="264.00" y="324" width="43.00" height="1" fill="#50a4e4"/>
<rect x="264.00" y="325" width="43.00" height="1" fill="#4488d4"/>
<rect x="264.00" y="326" width="43.00" height="1" fill="#417fd0"/>
<rect x="264.00" y="327" width="43.00" height="1" fill="#4488d4"/>
<rect x="264.00" y="328" width="43.00" height="1" fill="#58b4ee"/>
<rect x="264.00" y="329" width="43.00" height="1" fill="#50a4e4"/>
<rect x="264.00" y="330" width="43.00" height="1" fill="#58b4ee"/>
<rect x="264.00" y="331" width="43.00" height="1" fill="#74c4ee"/>
<rect x="264.00" y="332" width="43.00" height="1" fill="#9edcea"/>
<rect x="264.00" y="333" width="43.00" height="2" fill="#dceec9"/>
<rect x="264.00" y="335" width="43.00" height="1" fill="#e8eebc"/>
<rect x="264.00" y="336" width="43.00" height="1" fill="#9edcea"/>
<rect x="264.00" y="337" width="43.00" height="1" fill="#a8e2e7"/>
<rect x="264.00" y="338" width="43.00" height="1" fill="#dceec9"/>
<rect x="264.00" y="339" width="43.00" height="1" fill="#e8eebc"/>
<rect x="264.00" y="340" width="43.00" height="1" fill="#8ed2ee"/>
<rect x="264.00" y="341" width="43.00" height="1" fill="#c1ebdd"/>
<rect x="264.00" y="342" width="43.00" height="1" fill="#dceec9"/>
<rect x="264.00" y="343" width="43.00" height="1" fill="#58b4ee"/>
<rect x="264.00" y="344" width="43.00" height="1" fill="#50a4e4"/>
<rect x="264.00" y="345" width="43.00" height="1" fill="#c1ebdd"/>
<rect x="264.00" y="346" width="43.00" height="2" fill="#e8eebc"/>
<rect x="264.00" y="348" width="43.00" height="1" fill="#8ed2ee"/>
<rect x="264.00" y="349" width="43.00" height="1" fill="#74c4ee"/>
<rect x="264.00" y="350" width="43.00" height="1" fill="#81cbee"/>
<rect x="264.00" y="351" width="43.00" height="1" fill="#50a4e4"/>
<rect x="264.00" y="352" width="43.00" height="1" fill="#4488d4"/>
<rect x="264.00" y="353" width="43.00" height="1" fill="#417fd0"/>
<rect x="264.00" y="354" width="43.00" height="2" fill="#4a96dc"/>
<rect x="264.00" y="356" width="43.00" height="1" fill="#4488d4"/>
<rect x="264.00" y="357" width="43.00" height="1" fill="#50a4e4"/>
<rect x="264.00" y="358" width="43.00" height="1" fill="#3458b0"/>
<rect x="264.00" y="359" width="43.00" height="1" fill="#417fd0"/>
<rect x="264.00" y="360" width="43.00" height="1" fill="#3d77cc"/>
<rect x="264.00" y="361" width="43.00" height="1" fill="#2f4ea7"/>
<rect x="264.00" y="362" width="43.00" height="1" fill="#4488d4"/>
<rect x="264.00" y="363" width="43.00" height="2" fill="#4a96dc"/>
<rect x="264.00" y="365" width="43.00" height="1" fill="#60bcee"/>
<rect x="264.00" y="366" width="43.00" height="1" fill="#74c4ee"/>
<rect x="264.00" y="367" width="43.00" height="1" fill="#8ed2ee"/>
<rect x="264.00" y="368" width="43.00" height="1" fill="#60bcee"/>
<rect x="264.00" y="369" width="43.00" height="1" fill="#58b4ee"/>
<rect x="264.00" y="370" width="43.00" height="1" fill="#74c4ee"/>
<rect x="264.00" y="371" width="43.00" height="1" fill="#8ed2ee"/>
<rect x="264.00" y="372" width="43.00" height="1" fill="#9edcea"/>
<rect x="264.00" y="373" width="43.00" height="1" fill="#8ed2ee"/>
<rect x="264.00" y="374" width="43.00" height="1" fill="#4488d4"/>
<rect x="264.00" y="375" width="43.00" height="1" fill="#4a96dc"/>
<rect x="264.00" y="376" width="43.00" height="1" fill="#60bcee"/>
<rect x="264.00" y="377" width="43.00" height="1" fill="#58b4ee"/>
<rect x="264.00" y="378" width="43.00" height="1" fill="#60bcee"/>
<rect x="264.00" y="379" width="43.00" height="1" fill="#81cbee"/>
<rect x="264.00" y="380" width="43.00" height="2" fill="#8ed2ee"/>
<rect x="264.00" y="382" width="43.00" height="1" fill="#81cbee"/>
<rect x="264.00" y="383" width="43.00" height="1" fill="#74c4ee"/>
<rect x="264.00" y="384" width="43.00" height="1" fill="#58b4ee"/>
<rect x="264.00" y="385" width="43.00" height="1" fill="#50a4e4"/>
<rect x="264.00" y="386" width="43.00" height="1" fill="#60bcee"/>
<rect x="264.00" y="387" width="43.00" height="1" fill="#74c4ee"/>
<rect x="264.00" y="388" width="43.00" height="1" fill="#50a4e4"/>
<rect x="264.00" y="389" width="43.00" height="1" fill="#58b4ee"/>
<rect x="264.00" y="390" width="43.00" height="1" fill="#60bcee"/>
<rect x="264.00" y="391" width="43.00" height="2" fill="#74c4ee"/>
<rect x="264.00" y="393" width="43.00" height="1" fill="#8ed2ee"/>
<rect x="264.00" y="394" width="43.00" height="1" fill="#74c4ee"/>
<rect x="264.00" y="395" width="43.00" height="1" fill="#81cbee"/>
<rect x="264.00" y="396" width="43.00" height="1" fill="#8ed2ee"/>
<rect x="264.00" y="397" width="43.00" height="1" fill="#b2e8e4"/>
<rect x="264.00" y="398" width="43.00" height="1" fill="#ecdfa4"/>
<rect x="264.00" y="399" width="43.00" height="1" fill="#e8eebc"/>
<rect x="264.00" y="400" width="43.00" height="1" fill="#a8e2e7"/>
<rect x="264.00" y="401" width="43.00" height="1" fill="#74c4ee"/>
<rect x="264.00" y="402" width="43.00" height="2" fill="#8ed2ee"/>
<rect x="264.00" y="404" width="43.00" height="1" fill="#dceec9"/>
<rect x="264.00" y="405" width="43.00" height="1" fill="#efd892"/>
<rect x="264.00" y="406" width="43.00" height="2" fill="#f2bc6c"/>
<rect x="264.00" y="408" width="43.00" height="1" fill="#e8eebc"/>
<rect x="264.00" y="409" width="43.00" height="1" fill="#dceec9"/>
<rect x="264.00" y="410" width="43.00" height="1" fill="#ecdfa4"/>
<rect x="264.00" y="411" width="43.00" height="2" fill="#efd892"/>
<rect x="264.00" y="413" width="43.00" height="1" fill="#f2bc6c"/>
<rect x="264.00" y="414" width="43.00" height="1" fill="#e6924a"/>
<rect x="264.00" y="415" width="43.00" height="3" fill="#dd813e"/>
<rect x="264.00" y="418" width="43.00" height="1" fill="#e6924a"/>
<rect x="264.00" y="419" width="43.00" height="1" fill="#ea9a50"/>
<rect x="264.00" y="420" width="43.00" height="1" fill="#efab5d"/>
<rect x="264.00" y="421" width="43.00" height="1" fill="#ea9a50"/>
<rect x="264.00" y="422" width="43.00" height="2" fill="#d87838"/>
<rect x="264.00" y="424" width="43.00" height="1" fill="#e6924a"/>
<rect x="264.00" y="425" width="43.00" height="1" fill="#d87838"/>
<rect x="264.00" y="426" width="43.00" height="1" fill="#c6542b"/>
<rect x="264.00" y="427" width="43.00" height="3" fill="#b94126"/>
<rect x="264.00" y="430" width="43.00" height="1" fill="#c6542b"/>
<rect x="264.00" y="431" width="43.00" height="1" fill="#d87838"/>
<rect x="264.00" y="432" width="43.00" height="1" fill="#cc5e2d"/>
<rect x="264.00" y="433" width="43.00" height="1" fill="#d87838"/>
<rect x="307.00" y="84" width="44.00" height="1" fill="#b13724"/>
<rect x="307.00" y="85" width="44.00" height="1" fill="#c04a28"/>
<rect x="307.00" y="86" width="44.00" height="1" fill="#d26830"/>
<rect x="307.00" y="87" width="44.00" height="1" fill="#c6542b"/>
<rect x="307.00" y="88" width="44.00" height="1" fill="#aa2e22"/>
<rect x="307.00" y="89" width="44.00" height="1" fill="#9a1520"/>
<rect x="307.00" y="90" width="44.00" height="1" fill="#9f1d21"/>
<rect x="307.00" y="91" width="44.00" height="1" fill="#aa2e22"/>
<rect x="307.00" y="92" width="44.00" height="1" fill="#c04a28"/>
<rect x="307.00" y="93" width="44.00" height="1" fill="#b13724"/>
<rect x="307.00" y="94" width="44.00" height="1" fill="#cc5e2d"/>
<rect x="307.00" y="95" width="44.00" height="1" fill="#d87838"/>
<rect x="307.00" y="96" width="44.00" height="1" fill="#e6924a"/>
<rect x="307.00" y="97" width="44.00" height="1" fill="#d87838"/>
<rect x="307.00" y="98" width="44.00" height="1" fill="#c04a28"/>
<rect x="307.00" y="99" width="44.00" height="1" fill="#aa2e22"/>
<rect x="307.00" y="100" width="44.00" height="1" fill="#cc5e2d"/>
<rect x="307.00" y="101" width="44.00" height="1" fill="#d26830"/>
<rect x="307.00" y="102" width="44.00" height="1" fill="#c04a28"/>
<rect x="307.00" y="103" width="44.00" height="6" fill="#9a1520"/>
<rect x="307.00" y="109" width="44.00" height="1" fill="#a52621"/>
<rect x="307.00" y="110" width="44.00" height="1" fill="#c04a28"/>
<rect x="307.00" y="111" width="44.00" height="1" fill="#9f1d21"/>
<rect x="307.00" y="112" width="44.00" height="6" fill="#9a1520"/>
<rect x="307.00" y="118" width="44.00" height="1" fill="#c6542b"/>
<rect x="307.00" y="119" width="44.00" height="2" fill="#d87838"/>
<rect x="307.00" y="121" width="44.00" height="1" fill="#cc5e2d"/>
<rect x="307.00" y="122" width="44.00" height="1" fill="#a52621"/>
<rect x="307.00" y="123" width="44.00" height="1" fill="#9a1520"/>
<rect x="307.00" y="124" width="44.00" height="1" fill="#c6542b"/>
<rect x="307.00" y="125" width="44.00" height="1" fill="#d87838"/>
<rect x="307.00" y="126" width="44.00" height="1" fill="#c6542b"/>
<rect x="307.00" y="127" width="44.00" height="2" fill="#9a1520"/>
<rect x="307.00" y="129" width="44.00" height="1" fill="#a52621"/>
<rect x="307.00" y="130" width="44.00" height="15" fill="#9a1520"/>
<rect x="307.00" y="145" width="44.00" height="1" fill="#cc5e2d"/>
<rect x="307.00" y="146" width="44.00" height="1" fill="#b13724"/>
<rect x="307.00" y="147" width="44.00" height="8" fill="#9a1520"/>
<rect x="307.00" y="155" width="44.00" height="1" fill="#a52621"/>
<rect x="307.00" y="156" width="44.00" height="18" fill="#9a1520"/>
<rect x="307.00" y="174" width="44.00" height="1" fill="#a52621"/>
<rect x="307.00" y="175" width="44.00" height="6" fill="#9a1520"/>
<rect x="307.00" y="181" width="44.00" height="1" fill="#c04a28"/>
<rect x="307.00" y="182" width="44.00" height="1" fill="#b94126"/>
<rect x="307.00" y="183" width="44.00" height="1" fill="#c6542b"/>
<rect x="307.00" y="184" width="44.00" height="1" fill="#d87838"/>
<rect x="307.00" y="185" width="44.00" height="1" fill="#c6542b"/>
<rect x="307.00" y="186" width="44.00" height="1" fill="#b94126"/>
<rect x="307.00" y="187" width="44.00" height="3" fill="#9a1520"/>
<rect x="307.00" y="190" width="44.00" height="1" fill="#9f1d21"/>
<rect x="307.00" y="191" width="44.00" height="1" fill="#aa2e22"/>
<rect x="307.00" y="192" width="44.00" height="1" fill="#c04a28"/>
<rect x="307.00" y="193" width="44.00" height="1" fill="#aa2e22"/>
<rect x="307.00" y="194" width="44.00" height="3" fill="#9a1520"/>
<rect x="307.00" y="197" width="44.00" height="1" fill="#aa2e22"/>
<rect x="307.00" y="198" width="44.00" height="1" fill="#c6542b"/>
<rect x="307.00" y="199" width="44.00" height="1" fill="#cc5e2d"/>
<rect x="307.00" y="200" width="44.00" height="1" fill="#c6542b"/>
<rect x="307.00" y="201" width="44.00" height="1" fill="#9f1d21"/>
<rect x="307.00" y="202" width="44.00" height="1" fill="#c6542b"/>
<rect x="307.00" y="203" width="44.00" height="1" fill="#d87838"/>
<rect x="307.00" y="204" width="44.00" height="1" fill="#e6924a"/>
<rect x="307.00" y="205" width="44.00" height="1" fill="#efab5d"/>
<rect x="307.00" y="206" width="44.00" height="1" fill="#f2bc6c"/>
<rect x="307.00" y="207" width="44.00" height="1" fill="#ea9a50"/>
<rect x="307.00" y="208" width="44.00" height="1" fill="#d87838"/>
<rect x="307.00" y="209" width="44.00" height="1" fill="#d26830"/>
<rect x="307.00" y="210" width="44.00" height="1" fill="#dd813e"/>
<rect x="307.00" y="211" width="44.00" height="1" fill="#e6924a"/>
<rect x="307.00" y="212" width="44.00" height="1" fill="#d87838"/>
<rect x="307.00" y="213" width="44.00" height="1" fill="#c6542b"/>
<rect x="307.00" y="214" width="44.00" height="1" fill="#d26830"/>
<rect x="307.00" y="215" width="44.00" height="1" fill="#b94126"/>
<rect x="307.00" y="216" width="44.00" height="1" fill="#9f1d21"/>
<rect x="307.00" y="217" width="44.00" height="1" fill="#b13724"/>
<rect x="307.00" y="218" width="44.00" height="1" fill="#c04a28"/>
<rect x="307.00" y="219" width="44.00" height="2" fill="#b13724"/>
<rect x="307.00" y="221" width="44.00" height="1" fill="#c04a28"/>
<rect x="307.00" y="222" width="44.00" height="1" fill="#d87838"/>
<rect x="307.00" y="223" width="44.00" height="1" fill="#ea9a50"/>
<rect x="307.00" y="224" width="44.00" height="1" fill="#efd892"/>
<rect x="307.00" y="225" width="44.00" height="1" fill="#c1ebdd"/>
<rect x="307.00" y="226" width="44.00" height="1" fill="#b2e8e4"/>
<rect x="307.00" y="227" width="44.00" height="1" fill="#d0eed6"/>
<rect x="307.00" y="228" width="44.00" height="1" fill="#ea9a50"/>
<rect x="307.00" y="229" width="44.00" height="2" fill="#dd813e"/>
<rect x="307.00" y="231" width="44.00" height="1" fill="#ea9a50"/>
<rect x="307.00" y="232" width="44.00" height="1" fill="#efab5d"/>
<rect x="307.00" y="233" width="44.00" height="1" fill="#f0b365"/>
<rect x="307.00" y="234" width="44.00" height="1" fill="#efab5d"/>
<rect x="307.00" y="235" width="44.00" height="1" fill="#f2bc6c"/>
<rect x="307.00" y="236" width="44.00" height="1" fill="#f0b365"/>
<rect x="307.00" y="237" width="44.00" height="1" fill="#ea9a50"/>
<rect x="307.00" y="238" width="44.00" height="1" fill="#c6542b"/>
<rect x="307.00" y="239" width="44.00" height="1" fill="#cc5e2d"/>
<rect x="307.00" y="240" width="44.00" height="1" fill="#d87838"/>
<rect x="307.00" y="241" width="44.00" height="2" fill="#dd813e"/>
<rect x="307.00" y="243" width="44.00" height="1" fill="#e6924a"/>
<rect x="307.00" y="244" width="44.00" height="1" fill="#f2c676"/>
<rect x="307.00" y="245" width="44.00" height="1" fill="#a8e2e7"/>
<rect x="307.00" y="246" width="44.00" height="1" fill="#8ed2ee"/>
<rect x="307.00" y="247" width="44.00" height="1" fill="#9edcea"/>
<rect x="307.00" y="248" width="44.00" height="1" fill="#ea9a50"/>
<rect x="307.00" y="249" width="44.00" height="1" fill="#dd813e"/>
<rect x="307.00" y="250" width="44.00" height="1" fill="#e6924a"/>
<rect x="307.00" y="251" width="44.00" height="1" fill="#eda256"/>
<rect x="307.00" y="252" width="44.00" height="1" fill="#f2bc6c"/>
<rect x="307.00" y="253" width="44.00" height="1" fill="#e8eebc"/>
<rect x="307.00" y="254" width="44.00" height="1" fill="#9edcea"/>
<rect x="307.00" y="255" width="44.00" height="2" fill="#74c4ee"/>
<rect x="307.00" y="257" width="44.00" height="1" fill="#9edcea"/>
<rect x="307.00" y="258" width="44.00" height="1" fill="#f0b365"/>
<rect x="307.00" y="259" width="44.00" height="1" fill="#e8eebc"/>
<rect x="307.00" y="260" width="44.00" height="1" fill="#d0eed6"/>
<rect x="307.00" y="261" width="44.00" height="1" fill="#9edcea"/>
<rect x="307.00" y="262" width="44.00" height="1" fill="#d0eed6"/>
<rect x="307.00" y="263" width="44.00" height="3" fill="#dceec9"/>
<rect x="307.00" y="266" width="44.00" height="1" fill="#d0eed6"/>
<rect x="307.00" y="267" width="44.00" height="1" fill="#9edcea"/>
<rect x="307.00" y="268" width="44.00" height="1" fill="#f2bc6c"/>
<rect x="307.00" y="269" width="44.00" height="1" fill="#efab5d"/>
<rect x="307.00" y="270" width="44.00" height="1" fill="#eda256"/>
<rect x="307.00" y="271" width="44.00" height="1" fill="#ea9a50"/>
<rect x="307.00" y="272" width="44.00" height="1" fill="#efab5d"/>
<rect x="307.00" y="273" width="44.00" height="1" fill="#eda256"/>
<rect x="307.00" y="274" width="44.00" height="1" fill="#efab5d"/>
<rect x="307.00" y="275" width="44.00" height="1" fill="#f0b365"/>
<rect x="307.00" y="276" width="44.00" height="1" fill="#f2c676"/>
<rect x="307.00" y="277" width="44.00" height="1" fill="#d0eed6"/>
<rect x="307.00" y="278" width="44.00" height="2" fill="#b2e8e4"/>
<rect x="307.00" y="280" width="44.00" height="1" fill="#c1ebdd"/>
<rect x="307.00" y="281" width="44.00" height="1" fill="#b2e8e4"/>
<rect x="307.00" y="282" width="44.00" height="1" fill="#ecdfa4"/>
<rect x="307.00" y="283" width="44.00" height="1" fill="#dceec9"/>
<rect x="307.00" y="284" width="44.00" height="1" fill="#b2e8e4"/>
<rect x="307.00" y="285" width="44.00" height="1" fill="#a8e2e7"/>
<rect x="307.00" y="286" width="44.00" height="1" fill="#50a4e4"/>
<rect x="307.00" y="287" width="44.00" height="1" fill="#60bcee"/>
<rect x="307.00" y="288" width="44.00" height="2" fill="#b2e8e4"/>
<rect x="307.00" y="290" width="44.00" height="1" fill="#dceec9"/>
<rect x="307.00" y="291" width="44.00" height="2" fill="#e8eebc"/>
<rect x="307.00" y="293" width="44.00" height="1" fill="#d0eed6"/>
<rect x="307.00" y="294" width="44.00" height="1" fill="#c1ebdd"/>
<rect x="307.00" y="295" width="44.00" height="1" fill="#b2e8e4"/>
<rect x="307.00" y="296" width="44.00" height="1" fill="#d0eed6"/>
<rect x="307.00" y="297" width="44.00" height="1" fill="#ecdfa4"/>
<rect x="307.00" y="298" width="44.00" height="1" fill="#e8eebc"/>
<rect x="307.00" y="299" width="44.00" height="2" fill="#b2e8e4"/>
<rect x="307.00" y="301" width="44.00" height="1" fill="#dceec9"/>
<rect x="307.00" y="302" width="44.00" height="2" fill="#b2e8e4"/>
<rect x="307.00" y="304" width="44.00" height="1" fill="#9edcea"/>
<rect x="307.00" y="305" width="44.00" height="1" fill="#74c4ee"/>
<rect x="307.00" y="306" width="44.00" height="1" fill="#8ed2ee"/>
<rect x="307.00" y="307" width="44.00" height="1" fill="#50a4e4"/>
<rect x="307.00" y="308" width="44.00" height="1" fill="#4a96dc"/>
<rect x="307.00" y="309" width="44.00" height="1" fill="#50a4e4"/>
<rect x="307.00" y="310" width="44.00" height="1" fill="#9edcea"/>
<rect x="307.00" y="311" width="44.00" height="1" fill="#c1ebdd"/>
<rect x="307.00" y="312" width="44.00" height="1" fill="#9edcea"/>
<rect x="307.00" y="313" width="44.00" height="1" fill="#74c4ee"/>
<rect x="307.00" y="314" width="44.00" height="1" fill="#9edcea"/>
<rect x="307.00" y="315" width="44.00" height="1" fill="#b2e8e4"/>
<rect x="307.00" y="316" width="44.00" height="2" fill="#f2c676"/>
<rect x="307.00" y="318" width="44.00" height="1" fill="#f2d080"/>
<rect x="307.00" y="319" width="44.00" height="1" fill="#efd892"/>
<rect x="307.00" y="320" width="44.00" height="1" fill="#d0eed6"/>
<rect x="307.00" y="321" width="44.00" height="2" fill="#b2e8e4"/>
<rect x="307.00" y="323" width="44.00" height="1" fill="#c1ebdd"/>
<rect x="307.00" y="324" width="44.00" height="2" fill="#e8eebc"/>
<rect x="307.00" y="326" width="44.00" height="2" fill="#dceec9"/>
<rect x="307.00" y="328" width="44.00" height="1" fill="#a8e2e7"/>
<rect x="307.00" y="329" width="44.00" height="1" fill="#74c4ee"/>
<rect x="307.00" y="330" width="44.00" height="1" fill="#8ed2ee"/>
<rect x="307.00" y="331" width="44.00" height="1" fill="#9edcea"/>
<rect x="307.00" y="332" width="44.00" height="1" fill="#8ed2ee"/>
<rect x="307.00" y="333" width="44.00" height="1" fill="#81cbee"/>
<rect x="307.00" y="334" width="44.00" height="1" fill="#50a4e4"/>
<rect x="307.00" y="335" width="44.00" height="1" fill="#4a96dc"/>
<rect x="307.00" y="336" width="44.00" height="1" fill="#50a4e4"/>
<rect x="307.00" y="337" width="44.00" height="1" fill="#60bcee"/>
<rect x="307.00" y="338" width="44.00" height="1" fill="#50a4e4"/>
<rect x="307.00" y="339" width="44.00" height="1" fill="#4a96dc"/>
<rect x="307.00" y="340" width="44.00" height="1" fill="#60bcee"/>
<rect x="307.00" y="341" width="44.00" height="1" fill="#8ed2ee"/>
<rect x="307.00" y="342" width="44.00" height="1" fill="#b2e8e4"/>
<rect x="307.00" y="343" width="44.00" height="1" fill="#9edcea"/>
<rect x="307.00" y="344" width="44.00" height="1" fill="#60bcee"/>
<rect x="307.00" y="345" width="44.00" height="1" fill="#8ed2ee"/>
<rect x="307.00" y="346" width="44.00" height="1" fill="#b2e8e4"/>
<rect x="307.00" y="347" width="44.00" height="1" fill="#dceec9"/>
<rect x="307.00" y="348" width="44.00" height="1" fill="#b2e8e4"/>
<rect x="307.00" y="349" width="44.00" height="1" fill="#8ed2ee"/>
<rect x="307.00" y="350" width="44.00" height="1" fill="#74c4ee"/>
<rect x="307.00" y="351" width="44.00" height="1" fill="#60bcee"/>
<rect x="307.00" y="352" width="44.00" height="1" fill="#50a4e4"/>
<rect x="307.00" y="353" width="44.00" height="1" fill="#60bcee"/>
<rect x="307.00" y="354" width="44.00" height="1" fill="#9edcea"/>
<rect x="307.00" y="355" width="44.00" height="1" fill="#b2e8e4"/>
<rect x="307.00" y="356" width="44.00" height="1" fill="#c1ebdd"/>
<rect x="307.00" y="357" width="44.00" height="1" fill="#efd892"/>
<rect x="307.00" y="358" width="44.00" height="1" fill="#ecdfa4"/>
<rect x="307.00" y="359" width="44.00" height="1" fill="#8ed2ee"/>
<rect x="307.00" y="360" width="44.00" height="2" fill="#60bcee"/>
<rect x="307.00" y="362" width="44.00" height="1" fill="#74c4ee"/>
<rect x="307.00" y="363" width="44.00" height="1" fill="#58b4ee"/>
<rect x="307.00" y="364" width="44.00" height="3" fill="#4a96dc"/>
<rect x="307.00" y="367" width="44.00" height="1" fill="#50a4e4"/>
<rect x="307.00" y="368" width="44.00" height="1" fill="#9edcea"/>
<rect x="307.00" y="369" width="44.00" height="1" fill="#b2e8e4"/>
<rect x="307.00" y="370" width="44.00" height="1" fill="#a8e2e7"/>
<rect x="307.00" y="371" width="44.00" height="1" fill="#8ed2ee"/>
<rect x="307.00" y="372" width="44.00" height="1" fill="#b2e8e4"/>
<rect x="307.00" y="373" width="44.00" height="1" fill="#a8e2e7"/>
<rect x="307.00" y="374" width="44.00" height="1" fill="#9edcea"/>
<rect x="307.00" y="375" width="44.00" height="1" fill="#b2e8e4"/>
<rect x="307.00" y="376" width="44.00" height="1" fill="#74c4ee"/>
<rect x="307.00" y="377" width="44.00" height="2" fill="#50a4e4"/>
<rect x="307.00" y="379" width="44.00" height="1" fill="#4a96dc"/>
<rect x="307.00" y="380" width="44.00" height="1" fill="#60bcee"/>
<rect x="307.00" y="381" width="44.00" height="1" fill="#9edcea"/>
<rect x="307.00" y="382" width="44.00" height="1" fill="#c1ebdd"/>
<rect x="307.00" y="383" width="44.00" height="1" fill="#9edcea"/>
<rect x="307.00" y="384" width="44.00" height="1" fill="#8ed2ee"/>
<rect x="307.00" y="385" width="44.00" height="1" fill="#9edcea"/>
<rect x="307.00" y="386" width="44.00" height="1" fill="#b2e8e4"/>
<rect x="307.00" y="387" width="44.00" height="1" fill="#9edcea"/>
<rect x="307.00" y="388" width="44.00" height="1" fill="#efd892"/>
<rect x="307.00" y="389" width="44.00" height="1" fill="#f2bc6c"/>
<rect x="307.00" y="390" width="44.00" height="1" fill="#efd892"/>
<rect x="307.00" y="391" width="44.00" height="1" fill="#d0eed6"/>
<rect x="307.00" y="392" width="44.00" height="1" fill="#dceec9"/>
<rect x="307.00" y="393" width="44.00" height="1" fill="#e8eebc"/>
<rect x="307.00" y="394" width="44.00" height="1" fill="#d0eed6"/>
<rect x="307.00" y="395" width="44.00" height="2" fill="#9edcea"/>
<rect x="307.00" y="397" width="44.00" height="1" fill="#b2e8e4"/>
<rect x="307.00" y="398" width="44.00" height="1" fill="#e8eebc"/>
<rect x="307.00" y="399" width="44.00" height="1" fill="#f0b365"/>
<rect x="307.00" y="400" width="44.00" height="1" fill="#efab5d"/>
<rect x="307.00" y="401" width="44.00" height="2" fill="#f0b365"/>
<rect x="307.00" y="403" width="44.00" height="1" fill="#f2c676"/>
<rect x="307.00" y="404" width="44.00" height="1" fill="#d0eed6"/>
<rect x="307.00" y="405" width="44.00" height="1" fill="#b2e8e4"/>
<rect x="307.00" y="406" width="44.00" height="1" fill="#d0eed6"/>
<rect x="307.00" y="407" width="44.00" height="1" fill="#b2e8e4"/>
<rect x="307.00" y="408" width="44.00" height="1" fill="#d0eed6"/>
<rect x="307.00" y="409" width="44.00" height="1" fill="#e8eebc"/>
<rect x="307.00" y="410" width="44.00" height="1" fill="#efd892"/>
<rect x="307.00" y="411" width="44.00" height="1" fill="#f0b365"/>
<rect x="307.00" y="412" width="44.00" height="1" fill="#efab5d"/>
<rect x="307.00" y="413" width="44.00" height="2" fill="#eda256"/>
<rect x="307.00" y="415" width="44.00" height="1" fill="#ea9a50"/>
<rect x="307.00" y="416" width="44.00" height="1" fill="#dd813e"/>
<rect x="307.00" y="417" width="44.00" height="1" fill="#d87838"/>
<rect x="307.00" y="418" width="44.00" height="1" fill="#dd813e"/>
<rect x="307.00" y="419" width="44.00" height="1" fill="#cc5e2d"/>
<rect x="307.00" y="420" width="44.00" height="1" fill="#dd813e"/>
<rect x="307.00" y="421" width="44.00" height="1" fill="#ea9a50"/>
<rect x="307.00" y="422" width="44.00" height="1" fill="#efab5d"/>
<rect x="307.00" y="423" width="44.00" height="1" fill="#f0b365"/>
<rect x="307.00" y="424" width="44.00" height="1" fill="#f2bc6c"/>
<rect x="307.00" y="425" width="44.00" height="1" fill="#f0b365"/>
<rect x="307.00" y="426" width="44.00" height="1" fill="#ea9a50"/>
<rect x="307.00" y="427" width="44.00" height="1" fill="#b94126"/>
<rect x="307.00" y="428" width="44.00" height="1" fill="#b13724"/>
<rect x="307.00" y="429" width="44.00" height="1" fill="#c04a28"/>
<rect x="307.00" y="430" width="44.00" height="1" fill="#b94126"/>
<rect x="307.00" y="431" width="44.00" height="1" fill="#c04a28"/>
<rect x="307.00" y="432" width="44.00" height="1" fill="#cc5e2d"/>
<rect x="307.00" y="433" width="44.00" height="1" fill="#d26830"/>
<rect x="351.00" y="226" width="44.00" height="3" fill="#ea9a50"/>
<rect x="351.00" y="229" width="44.00" height="1" fill="#dd813e"/>
<rect x="351.00" y="230" width="44.00" height="1" fill="#c6542b"/>
<rect x="351.00" y="231" width="44.00" height="1" fill="#d87838"/>
<rect x="351.00" y="232" width="44.00" height="1" fill="#efd892"/>
<rect x="351.00" y="233" width="44.00" height="2" fill="#d0eed6"/>
<rect x="351.00" y="235" width="44.00" height="1" fill="#e8eebc"/>
<rect x="351.00" y="236" width="44.00" height="1" fill="#f2bc6c"/>
<rect x="351.00" y="237" width="44.00" height="1" fill="#ea9a50"/>
<rect x="351.00" y="238" width="44.00" height="1" fill="#dd813e"/>
<rect x="351.00" y="239" width="44.00" height="1" fill="#e6924a"/>
<rect x="351.00" y="240" width="44.00" height="1" fill="#efab5d"/>
<rect x="351.00" y="241" width="44.00" height="1" fill="#f0b365"/>
<rect x="351.00" y="242" width="44.00" height="1" fill="#efab5d"/>
<rect x="351.00" y="243" width="44.00" height="1" fill="#eda256"/>
<rect x="351.00" y="244" width="44.00" height="1" fill="#dd813e"/>
<rect x="351.00" y="245" width="44.00" height="1" fill="#e6924a"/>
<rect x="351.00" y="246" width="44.00" height="1" fill="#eda256"/>
<rect x="351.00" y="247" width="44.00" height="1" fill="#ea9a50"/>
<rect x="351.00" y="248" width="44.00" height="1" fill="#d87838"/>
<rect x="351.00" y="249" width="44.00" height="1" fill="#e6924a"/>
<rect x="351.00" y="250" width="44.00" height="1" fill="#ea9a50"/>
<rect x="351.00" y="251" width="44.00" height="1" fill="#e6924a"/>
<rect x="351.00" y="252" width="44.00" height="1" fill="#efab5d"/>
<rect x="351.00" y="253" width="44.00" height="2" fill="#f2bc6c"/>
<rect x="351.00" y="255" width="44.00" height="1" fill="#f0b365"/>
<rect x="351.00" y="256" width="44.00" height="1" fill="#f2c676"/>
<rect x="351.00" y="257" width="44.00" height="1" fill="#c1ebdd"/>
<rect x="351.00" y="258" width="44.00" height="1" fill="#9edcea"/>
<rect x="351.00" y="259" width="44.00" height="1" fill="#d0eed6"/>
<rect x="351.00" y="260" width="44.00" height="1" fill="#b2e8e4"/>
<rect x="351.00" y="261" width="44.00" height="1" fill="#e8eebc"/>
<rect x="351.00" y="262" width="44.00" height="1" fill="#f0b365"/>
<rect x="351.00" y="263" width="44.00" height="1" fill="#e6924a"/>
<rect x="351.00" y="264" width="44.00" height="2" fill="#dd813e"/>
<rect x="351.00" y="266" width="44.00" height="1" fill="#e18944"/>
<rect x="351.00" y="267" width="44.00" height="1" fill="#eda256"/>
<rect x="351.00" y="268" width="44.00" height="1" fill="#e8eebc"/>
<rect x="351.00" y="269" width="44.00" height="1" fill="#d0eed6"/>
<rect x="351.00" y="270" width="44.00" height="1" fill="#b2e8e4"/>
<rect x="351.00" y="271" width="44.00" height="2" fill="#9edcea"/>
<rect x="351.00" y="273" width="44.00" height="1" fill="#b2e8e4"/>
<rect x="351.00" y="274" width="44.00" height="1" fill="#a8e2e7"/>
<rect x="351.00" y="275" width="44.00" height="1" fill="#60bcee"/>
<rect x="351.00" y="276" width="44.00" height="1" fill="#4a96dc"/>
<rect x="351.00" y="277" width="44.00" height="1" fill="#8ed2ee"/>
<rect x="351.00" y="278" width="44.00" height="1" fill="#dceec9"/>
<rect x="351.00" y="279" width="44.00" height="1" fill="#e8eebc"/>
<rect x="351.00" y="280" width="44.00" height="1" fill="#d0eed6"/>
<rect x="351.00" y="281" width="44.00" height="1" fill="#dceec9"/>
<rect x="351.00" y="282" width="44.00" height="2" fill="#9edcea"/>
<rect x="351.00" y="284" width="44.00" height="1" fill="#a8e2e7"/>
<rect x="351.00" y="285" width="44.00" height="1" fill="#9edcea"/>
<rect x="351.00" y="286" width="44.00" height="1" fill="#8ed2ee"/>
<rect x="351.00" y="287" width="44.00" height="1" fill="#c1ebdd"/>
<rect x="351.00" y="288" width="44.00" height="1" fill="#f0b365"/>
<rect x="351.00" y="289" width="44.00" height="1" fill="#f2c676"/>
<rect x="351.00" y="290" width="44.00" height="1" fill="#e8eebc"/>
<rect x="351.00" y="291" width="44.00" height="1" fill="#ecdfa4"/>
<rect x="351.00" y="292" width="44.00" height="1" fill="#efd892"/>
<rect x="351.00" y="293" width="44.00" height="1" fill="#f2bc6c"/>
<rect x="351.00" y="294" width="44.00" height="2" fill="#e8eebc"/>
<rect x="351.00" y="296" width="44.00" height="1" fill="#dceec9"/>
<rect x="351.00" y="297" width="44.00" height="1" fill="#d0eed6"/>
<rect x="351.00" y="298" width="44.00" height="1" fill="#e8eebc"/>
<rect x="351.00" y="299" width="44.00" height="1" fill="#b2e8e4"/>
<rect x="351.00" y="300" width="44.00" height="1" fill="#9edcea"/>
<rect x="351.00" y="301" width="44.00" height="1" fill="#a8e2e7"/>
<rect x="351.00" y="302" width="44.00" height="1" fill="#8ed2ee"/>
<rect x="351.00" y="303" width="44.00" height="1" fill="#b2e8e4"/>
<rect x="351.00" y="304" width="44.00" height="1" fill="#9edcea"/>
<rect x="351.00" y="305" width="44.00" height="1" fill="#60bcee"/>
<rect x="351.00" y="306" width="44.00" height="1" fill="#58b4ee"/>
<rect x="351.00" y="307" width="44.00" height="1" fill="#8ed2ee"/>
<rect x="351.00" y="308" width="44.00" height="1" fill="#74c4ee"/>
<rect x="351.00" y="309" width="44.00" height="1" fill="#8ed2ee"/>
<rect x="351.00" y="310" width="44.00" height="1" fill="#60bcee"/>
<rect x="351.00" y="311" width="44.00" height="1" fill="#58b4ee"/>
<rect x="351.00" y="312" width="44.00" height="1" fill="#9edcea"/>
<rect x="351.00" y="313" width="44.00" height="1" fill="#ecdfa4"/>
<rect x="351.00" y="314" width="44.00" height="1" fill="#efd892"/>
<rect x="351.00" y="315" width="44.00" height="1" fill="#b2e8e4"/>
<rect x="351.00" y="316" width="44.00" height="1" fill="#58b4ee"/>
<rect x="351.00" y="317" width="44.00" height="2" fill="#50a4e4"/>
<rect x="351.00" y="319" width="44.00" height="1" fill="#60bcee"/>
<rect x="351.00" y="320" width="44.00" height="5" fill="#8ed2ee"/>
<rect x="351.00" y="325" width="44.00" height="1" fill="#81cbee"/>
<rect x="351.00" y="326" width="44.00" height="1" fill="#4a96dc"/>
<rect x="351.00" y="327" width="44.00" height="1" fill="#8ed2ee"/>
<rect x="351.00" y="328" width="44.00" height="1" fill="#4a96dc"/>
<rect x="351.00" y="329" width="44.00" height="2" fill="#60bcee"/>
<rect x="351.00" y="331" width="44.00" height="1" fill="#50a4e4"/>
<rect x="351.00" y="332" width="44.00" height="1" fill="#74c4ee"/>
<rect x="351.00" y="333" width="44.00" height="1" fill="#9edcea"/>
<rect x="351.00" y="334" width="44.00" height="1" fill="#8ed2ee"/>
<rect x="351.00" y="335" width="44.00" height="1" fill="#a8e2e7"/>
<rect x="351.00" y="336" width="44.00" height="1" fill="#8ed2ee"/>
<rect x="351.00" y="337" width="44.00" height="1" fill="#b2e8e4"/>
<rect x="351.00" y="338" width="44.00" height="1" fill="#e8eebc"/>
<rect x="351.00" y="339" width="44.00" height="1" fill="#dceec9"/>
<rect x="351.00" y="340" width="44.00" height="1" fill="#b2e8e4"/>
<rect x="351.00" y="341" width="44.00" height="2" fill="#8ed2ee"/>
<rect x="351.00" y="343" width="44.00" height="1" fill="#60bcee"/>
<rect x="351.00" y="344" width="44.00" height="1" fill="#8ed2ee"/>
<rect x="351.00" y="345" width="44.00" height="1" fill="#74c4ee"/>
<rect x="351.00" y="346" width="44.00" height="2" fill="#8ed2ee"/>
<rect x="351.00" y="348" width="44.00" height="1" fill="#dceec9"/>
<rect x="351.00" y="349" width="44.00" height="1" fill="#e8eebc"/>
<rect x="351.00" y="350" width="44.00" height="1" fill="#d0eed6"/>
<rect x="351.00" y="351" width="44.00" height="1" fill="#8ed2ee"/>
<rect x="351.00" y="352" width="44.00" height="1" fill="#d0eed6"/>
<rect x="351.00" y="353" width="44.00" height="1" fill="#ecdfa4"/>
<rect x="351.00" y="354" width="44.00" height="1" fill="#e8eebc"/>
<rect x="351.00" y="355" width="44.00" height="1" fill="#9edcea"/>
<rect x="351.00" y="356" width="44.00" height="2" fill="#74c4ee"/>
<rect x="351.00" y="358" width="44.00" height="1" fill="#a8e2e7"/>
<rect x="351.00" y="359" width="44.00" height="1" fill="#c1ebdd"/>
<rect x="351.00" y="360" width="44.00" height="1" fill="#9edcea"/>
<rect x="351.00" y="361" width="44.00" height="1" fill="#60bcee"/>
<rect x="351.00" y="362" width="44.00" height="1" fill="#8ed2ee"/>
<rect x="351.00" y="363" width="44.00" height="1" fill="#9edcea"/>
<rect x="351.00" y="364" width="44.00" height="1" fill="#8ed2ee"/>
<rect x="351.00" y="365" width="44.00" height="1" fill="#60bcee"/>
<rect x="351.00" y="366" width="44.00" height="1" fill="#50a4e4"/>
<rect x="351.00" y="367" width="44.00" height="1" fill="#9edcea"/>
<rect x="351.00" y="368" width="44.00" height="1" fill="#c1ebdd"/>
<rect x="351.00" y="369" width="44.00" height="1" fill="#9edcea"/>
<rect x="351.00" y="370" width="44.00" height="1" fill="#b2e8e4"/>
<rect x="351.00" y="371" width="44.00" height="1" fill="#9edcea"/>
<rect x="351.00" y="372" width="44.00" height="1" fill="#8ed2ee"/>
<rect x="351.00" y="373" width="44.00" height="1" fill="#74c4ee"/>
<rect x="351.00" y="374" width="44.00" height="1" fill="#81cbee"/>
<rect x="351.00" y="375" width="44.00" height="1" fill="#74c4ee"/>
<rect x="351.00" y="376" width="44.00" height="1" fill="#50a4e4"/>
<rect x="351.00" y="377" width="44.00" height="1" fill="#60bcee"/>
<rect x="351.00" y="378" width="44.00" height="1" fill="#8ed2ee"/>
<rect x="351.00" y="379" width="44.00" height="1" fill="#c1ebdd"/>
<rect x="351.00" y="380" width="44.00" height="1" fill="#b2e8e4"/>
<rect x="351.00" y="381" width="44.00" height="1" fill="#c1ebdd"/>
<rect x="351.00" y="382" width="44.00" height="1" fill="#e8eebc"/>
<rect x="351.00" y="383" width="44.00" height="1" fill="#ecdfa4"/>
<rect x="351.00" y="384" width="44.00" height="1" fill="#e8eebc"/>
<rect x="351.00" y="385" width="44.00" height="1" fill="#d0eed6"/>
<rect x="351.00" y="386" width="44.00" height="1" fill="#8ed2ee"/>
<rect x="351.00" y="387" width="44.00" height="1" fill="#60bcee"/>
<rect x="351.00" y="388" width="44.00" height="1" fill="#8ed2ee"/>
<rect x="351.00" y="389" width="44.00" height="1" fill="#9edcea"/>
<rect x="351.00" y="390" width="44.00" height="1" fill="#8ed2ee"/>
<rect x="351.00" y="391" width="44.00" height="1" fill="#9edcea"/>
<rect x="351.00" y="392" width="44.00" height="1" fill="#b2e8e4"/>
<rect x="351.00" y="393" width="44.00" height="1" fill="#9edcea"/>
<rect x="351.00" y="394" width="44.00" height="2" fill="#b2e8e4"/>
<rect x="351.00" y="396" width="44.00" height="1" fill="#9edcea"/>
<rect x="351.00" y="397" width="44.00" height="1" fill="#b2e8e4"/>
<rect x="351.00" y="398" width="44.00" height="1" fill="#ecdfa4"/>
<rect x="351.00" y="399" width="44.00" height="2" fill="#efd892"/>
<rect x="351.00" y="401" width="44.00" height="1" fill="#ecdfa4"/>
<rect x="351.00" y="402" width="44.00" height="1" fill="#e8eebc"/>
<rect x="351.00" y="403" width="44.00" height="1" fill="#d0eed6"/>
<rect x="351.00" y="404" width="44.00" height="1" fill="#b2e8e4"/>
<rect x="351.00" y="405" width="44.00" height="1" fill="#d0eed6"/>
<rect x="351.00" y="406" width="44.00" height="2" fill="#e8eebc"/>
<rect x="351.00" y="408" width="44.00" height="1" fill="#ecdfa4"/>
<rect x="351.00" y="409" width="44.00" height="1" fill="#eda256"/>
<rect x="351.00" y="410" width="44.00" height="1" fill="#f0b365"/>
<rect x="351.00" y="411" width="44.00" height="1" fill="#f2bc6c"/>
<rect x="351.00" y="412" width="44.00" height="4" fill="#eda256"/>
<rect x="351.00" y="416" width="44.00" height="1" fill="#efab5d"/>
<rect x="351.00" y="417" width="44.00" height="1" fill="#e6924a"/>
<rect x="351.00" y="418" width="44.00" height="1" fill="#eda256"/>
<rect x="351.00" y="419" width="44.00" height="1" fill="#e6924a"/>
<rect x="351.00" y="420" width="44.00" height="2" fill="#dd813e"/>
<rect x="351.00" y="422" width="44.00" height="1" fill="#d87838"/>
<rect x="351.00" y="423" width="44.00" height="1" fill="#e6924a"/>
<rect x="351.00" y="424" width="44.00" height="1" fill="#d87838"/>
<rect x="351.00" y="425" width="44.00" height="1" fill="#c6542b"/>
<rect x="351.00" y="426" width="44.00" height="1" fill="#d87838"/>
<rect x="351.00" y="427" width="44.00" height="1" fill="#9f1d21"/>
<rect x="351.00" y="428" width="44.00" height="3" fill="#9a1520"/>
<rect x="351.00" y="431" width="44.00" height="1" fill="#a52621"/>
<rect x="351.00" y="432" width="44.00" height="2" fill="#9a1520"/>
<line x1="48.8" y1="404.5" x2="395" y2="404.5" stroke="#000" stroke-opacity="0.35" stroke-width="1" stroke-dasharray="1 3.4"/>
<line x1="48.8" y1="377.5" x2="395" y2="377.5" stroke="#000" stroke-opacity="0.35" stroke-width="1" stroke-dasharray="1 3.4"/>
<line x1="48.8" y1="347.5" x2="395" y2="347.5" stroke="#000" stroke-opacity="0.35" stroke-width="1" stroke-dasharray="1 3.4"/>
<line x1="48.8" y1="318.5" x2="395" y2="318.5" stroke="#000" stroke-opacity="0.35" stroke-width="1" stroke-dasharray="1 3.4"/>
<line x1="48.8" y1="288.5" x2="395" y2="288.5" stroke="#000" stroke-opacity="0.35" stroke-width="1" stroke-dasharray="1 3.4"/>
<line x1="48.8" y1="259.5" x2="395" y2="259.5" stroke="#000" stroke-opacity="0.35" stroke-width="1" stroke-dasharray="1 3.4"/>
<line x1="48.8" y1="230.5" x2="395" y2="230.5" stroke="#000" stroke-opacity="0.35" stroke-width="1" stroke-dasharray="1 3.4"/>
<line x1="48.8" y1="200.5" x2="395" y2="200.5" stroke="#000" stroke-opacity="0.35" stroke-width="1" stroke-dasharray="1 3.4"/>
<line x1="48.8" y1="171.5" x2="395" y2="171.5" stroke="#000" stroke-opacity="0.35" stroke-width="1" stroke-dasharray="1 3.4"/>
<line x1="48.8" y1="141.5" x2="395" y2="141.5" stroke="#000" stroke-opacity="0.35" stroke-width="1" stroke-dasharray="1 3.4"/>
<line x1="48.8" y1="112.5" x2="395" y2="112.5" stroke="#000" stroke-opacity="0.35" stroke-width="1" stroke-dasharray="1 3.4"/>
<rect x="44.5" y="83.5" width="351" height="351" fill="none" stroke="#000" stroke-width="1"/>
<line x1="38" y1="434.5" x2="44" y2="434.5" stroke="#000" stroke-width="1"/>
<text x="32" y="438.8" text-anchor="end" class="t">Oct</text>
<line x1="38" y1="404.5" x2="44" y2="404.5" stroke="#000" stroke-width="1"/>
<text x="32" y="408.8" text-anchor="end" class="t">Nov</text>
<line x1="38" y1="377.5" x2="44" y2="377.5" stroke="#000" stroke-width="1"/>
<text x="32" y="381.8" text-anchor="end" class="t">Dec</text>
<line x1="38" y1="347.5" x2="44" y2="347.5" stroke="#000" stroke-width="1"/>
<text x="32" y="351.8" text-anchor="end" class="t">Jan</text>
<line x1="38" y1="318.5" x2="44" y2="318.5" stroke="#000" stroke-width="1"/>
<text x="32" y="322.8" text-anchor="end" class="t">Feb</text>
<line x1="38" y1="288.5" x2="44" y2="288.5" stroke="#000" stroke-width="1"/>
<text x="32" y="292.8" text-anchor="end" class="t">Mar</text>
<line x1="38" y1="259.5" x2="44" y2="259.5" stroke="#000" stroke-width="1"/>
<text x="32" y="263.8" text-anchor="end" class="t">Apr</text>
<line x1="38" y1="230.5" x2="44" y2="230.5" stroke="#000" stroke-width="1"/>
<text x="32" y="234.8" text-anchor="end" class="t">May</text>
<line x1="38" y1="200.5" x2="44" y2="200.5" stroke="#000" stroke-width="1"/>
<text x="32" y="204.8" text-anchor="end" class="t">Jun</text>
<line x1="38" y1="171.5" x2="44" y2="171.5" stroke="#000" stroke-width="1"/>
<text x="32" y="175.8" text-anchor="end" class="t">Jul</text>
<line x1="38" y1="141.5" x2="44" y2="141.5" stroke="#000" stroke-width="1"/>
<text x="32" y="145.8" text-anchor="end" class="t">Aug</text>
<line x1="38" y1="112.5" x2="44" y2="112.5" stroke="#000" stroke-width="1"/>
<text x="32" y="116.8" text-anchor="end" class="t">Sep</text>
<line x1="66.5" y1="435" x2="66.5" y2="440" stroke="#000" stroke-width="1"/>
<text transform="translate(69.5,474.3) rotate(-90)" class="t" textLength="26.6" lengthAdjust="spacingAndGlyphs">2018</text>
<line x1="110.5" y1="435" x2="110.5" y2="440" stroke="#000" stroke-width="1"/>
<text transform="translate(113.5,474.3) rotate(-90)" class="t" textLength="26.6" lengthAdjust="spacingAndGlyphs">2019</text>
<line x1="154.5" y1="435" x2="154.5" y2="440" stroke="#000" stroke-width="1"/>
<text transform="translate(157.5,474.3) rotate(-90)" class="t" textLength="26.6" lengthAdjust="spacingAndGlyphs">2020</text>
<line x1="198.5" y1="435" x2="198.5" y2="440" stroke="#000" stroke-width="1"/>
<text transform="translate(201.5,474.3) rotate(-90)" class="t" textLength="26.6" lengthAdjust="spacingAndGlyphs">2021</text>
<line x1="242.5" y1="435" x2="242.5" y2="440" stroke="#000" stroke-width="1"/>
<text transform="translate(245.5,474.3) rotate(-90)" class="t" textLength="26.6" lengthAdjust="spacingAndGlyphs">2022</text>
<line x1="285.5" y1="435" x2="285.5" y2="440" stroke="#000" stroke-width="1"/>
<text transform="translate(288.5,474.3) rotate(-90)" class="t" textLength="26.6" lengthAdjust="spacingAndGlyphs">2023</text>
<line x1="329.5" y1="435" x2="329.5" y2="440" stroke="#000" stroke-width="1"/>
<text transform="translate(332.5,474.3) rotate(-90)" class="t" textLength="26.6" lengthAdjust="spacingAndGlyphs">2024</text>
<line x1="373.5" y1="435" x2="373.5" y2="440" stroke="#000" stroke-width="1"/>
<text transform="translate(376.5,474.3) rotate(-90)" class="t" textLength="26.6" lengthAdjust="spacingAndGlyphs">2025</text>
<rect x="403.5" y="83.5" width="18" height="351" fill="url(#cb)" stroke="#000" stroke-width="1"/>
<line x1="422" y1="83.5" x2="427" y2="83.5" stroke="#000" stroke-width="1"/>
<text x="437.5" y="87.5" class="t" textLength="49.1" lengthAdjust="spacingAndGlyphs">&gt; 80.000</text>
<line x1="422" y1="120.1" x2="427" y2="120.1" stroke="#000" stroke-width="1"/>
<text x="437.5" y="124.1" class="t">75</text>
<line x1="422" y1="156.6" x2="427" y2="156.6" stroke="#000" stroke-width="1"/>
<text x="437.5" y="160.6" class="t">70</text>
<line x1="422" y1="193.2" x2="427" y2="193.2" stroke="#000" stroke-width="1"/>
<text x="437.5" y="197.2" class="t">65</text>
<line x1="422" y1="229.8" x2="427" y2="229.8" stroke="#000" stroke-width="1"/>
<text x="437.5" y="233.8" class="t">60</text>
<line x1="422" y1="266.3" x2="427" y2="266.3" stroke="#000" stroke-width="1"/>
<text x="437.5" y="270.3" class="t">55</text>
<line x1="422" y1="302.9" x2="427" y2="302.9" stroke="#000" stroke-width="1"/>
<text x="437.5" y="306.9" class="t">50</text>
<line x1="422" y1="339.4" x2="427" y2="339.4" stroke="#000" stroke-width="1"/>
<text x="437.5" y="343.4" class="t">45</text>
<line x1="422" y1="376.0" x2="427" y2="376.0" stroke="#000" stroke-width="1"/>
<text x="437.5" y="380.0" class="t">40</text>
<line x1="422" y1="412.6" x2="427" y2="412.6" stroke="#000" stroke-width="1"/>
<text x="437.5" y="416.6" class="t">35</text>
<line x1="422" y1="434.5" x2="427" y2="434.5" stroke="#000" stroke-width="1"/>
<text x="437.5" y="438.5" class="t" textLength="49.1" lengthAdjust="spacingAndGlyphs">&lt; 32.000</text>
<text x="220" y="24.5" text-anchor="middle" class="title" textLength="281.1" lengthAdjust="spacingAndGlyphs">KMOD Modesto City-County Airport (NWS)</text>
<text x="220" y="43.5" text-anchor="middle" class="title" textLength="299.3" lengthAdjust="spacingAndGlyphs">WY 2018-2025 Daily Average Air Temperature</text>
<text x="220" y="62.6" text-anchor="middle" class="title" textLength="219.5" lengthAdjust="spacingAndGlyphs">Observed Range 40.003 : 92.730 F</text>
<text x="4.8" y="488.8" class="foot" textLength="207.8" lengthAdjust="spacingAndGlyphs">www.cbr.washington.edu/sacramento/</text>
<text x="494.8" y="488.8" text-anchor="end" class="foot" textLength="145" lengthAdjust="spacingAndGlyphs">23 Nov 2025 15:49:14 PST</text>
</svg></body></html>
